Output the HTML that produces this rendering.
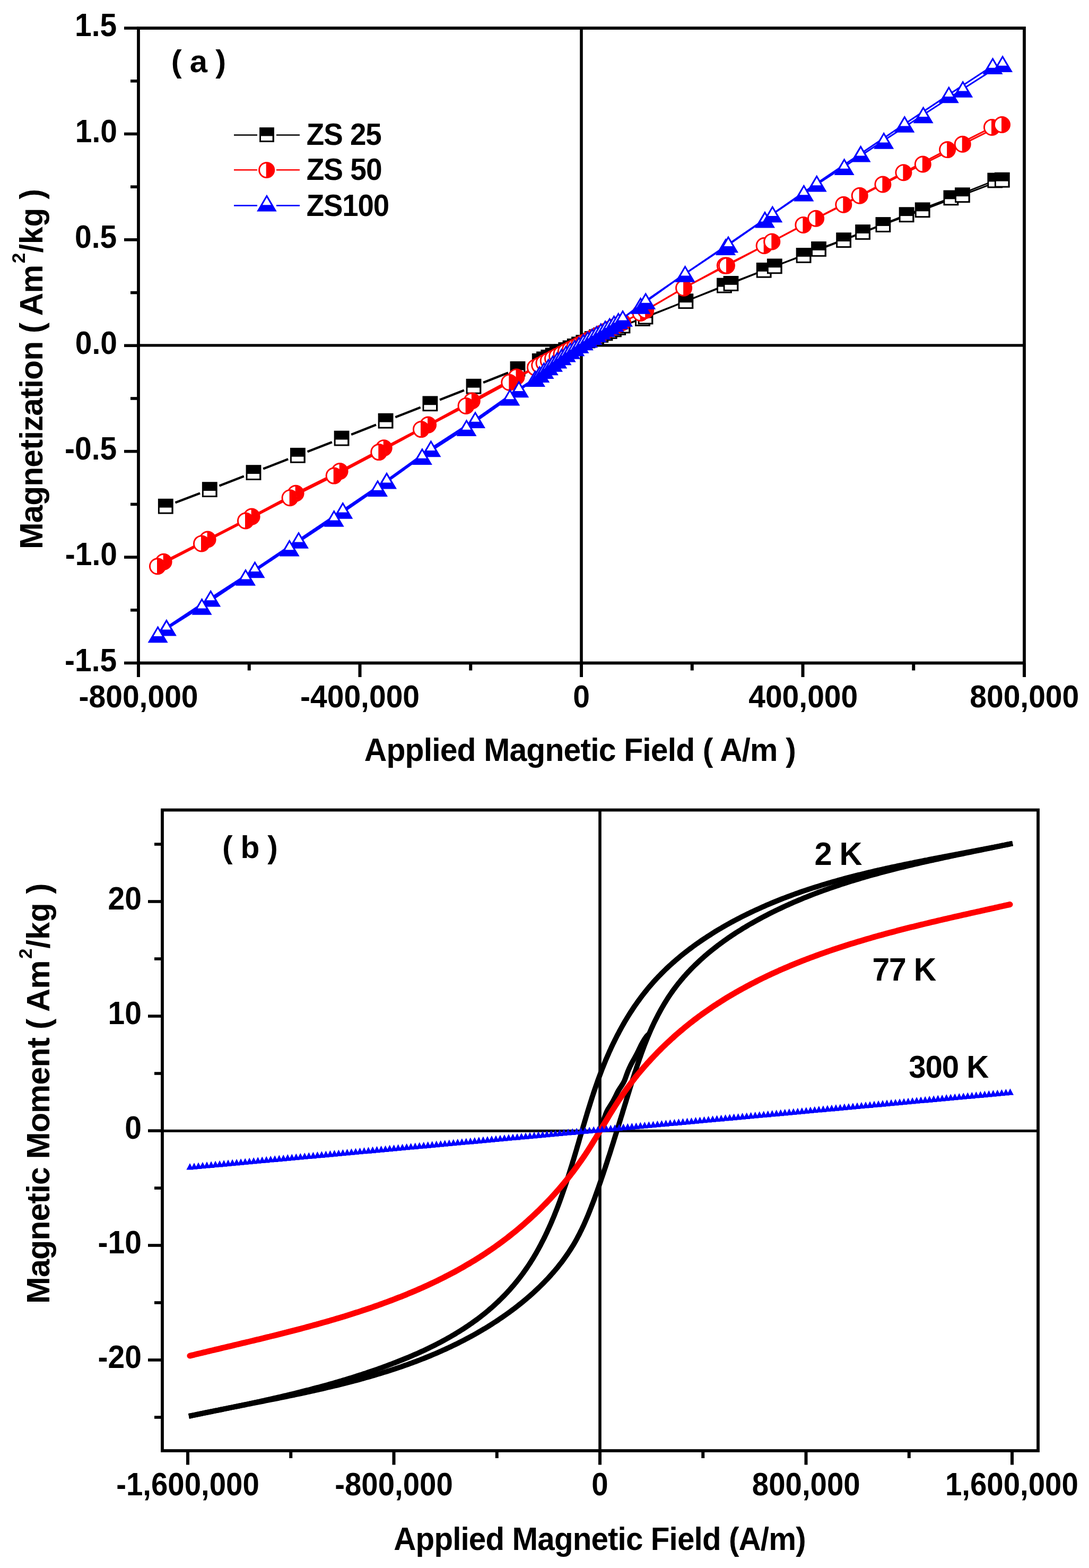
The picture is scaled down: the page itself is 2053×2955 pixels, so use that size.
<!DOCTYPE html>
<html><head><meta charset="utf-8"><title>Magnetization plots</title>
<style>html,body{margin:0;padding:0;background:#fff;}svg{display:block;}</style>
</head><body>
<svg xmlns="http://www.w3.org/2000/svg" width="2053" height="2955" viewBox="0 0 2053 2955">
<rect width="2053" height="2955" fill="#fff"/>
<line x1="1096" y1="53" x2="1096" y2="1249.5" stroke="#000" stroke-width="5.6" stroke-linecap="butt"/>
<line x1="261" y1="650.9" x2="1931" y2="650.9" stroke="#000" stroke-width="5.4" stroke-linecap="butt"/>
<line x1="1131" y1="1526.5" x2="1131" y2="2734" stroke="#000" stroke-width="5.6" stroke-linecap="butt"/>
<line x1="306" y1="2131.3" x2="1957" y2="2131.3" stroke="#000" stroke-width="5" stroke-linecap="butt"/>
<path d="M330.5 947.3L377.1 929.5M413.5 915.6L459.8 897.6M496.2 883.6L543.2 865.3M579.6 851.2L625.9 833.2M662.2 818.9L709.0 800.4M745.3 786.2L792.7 767.8M829.0 753.6L874.9 735.4M911.1 721.0L957.9 702.5M994.3 688.7L998.9 687.0" stroke="#000" stroke-width="4.3" fill="none"/>
<path d="M1174.0 613.9L1211.5 600.5M1211.5 600.5L1292.9 567.7M1292.9 567.7L1365.5 538.1M1365.5 538.1L1440.2 509.3M1440.2 509.3L1515.1 481.4M1515.1 481.4L1590.6 452.6M1590.6 452.6L1664.9 423.5M1664.9 423.5L1739.2 395.8M1739.2 395.8L1814.4 367.7M1814.4 367.7L1889.3 339.2" stroke="#000" stroke-width="2.9" fill="none"/>
<path d="M1174.0 613.9L1217.0 597.0M1217.0 597.0L1292.9 567.7M1292.9 567.7L1378.0 534.4M1378.0 534.4L1460.3 501.8M1460.3 501.8L1543.5 469.4M1543.5 469.4L1626.6 437.5M1626.6 437.5L1709.1 404.7M1709.1 404.7L1792.9 372.9M1792.9 372.9L1875.8 340.0" stroke="#000" stroke-width="2.9" fill="none"/>
<rect x="1002.85" y="665.94" width="28.8" height="28.8" fill="#000"/><rect x="1005.75" y="682.74" width="22.6" height="9" fill="#fff"/>
<rect x="1011.1" y="662.45" width="28.8" height="28.8" fill="#000"/><rect x="1014" y="679.25" width="22.6" height="9" fill="#fff"/>
<rect x="1019.35" y="658.95" width="28.8" height="28.8" fill="#000"/><rect x="1022.25" y="675.75" width="22.6" height="9" fill="#fff"/>
<rect x="1027.6" y="655.46" width="28.8" height="28.8" fill="#000"/><rect x="1030.5" y="672.26" width="22.6" height="9" fill="#fff"/>
<rect x="1035.85" y="651.96" width="28.8" height="28.8" fill="#000"/><rect x="1038.75" y="668.76" width="22.6" height="9" fill="#fff"/>
<rect x="1044.1" y="648.47" width="28.8" height="28.8" fill="#000"/><rect x="1047" y="665.27" width="22.6" height="9" fill="#fff"/>
<rect x="1052.35" y="644.97" width="28.8" height="28.8" fill="#000"/><rect x="1055.25" y="661.77" width="22.6" height="9" fill="#fff"/>
<rect x="1060.6" y="641.48" width="28.8" height="28.8" fill="#000"/><rect x="1063.5" y="658.28" width="22.6" height="9" fill="#fff"/>
<rect x="1068.85" y="637.98" width="28.8" height="28.8" fill="#000"/><rect x="1071.75" y="654.78" width="22.6" height="9" fill="#fff"/>
<rect x="1077.1" y="634.49" width="28.8" height="28.8" fill="#000"/><rect x="1080" y="651.29" width="22.6" height="9" fill="#fff"/>
<rect x="1085.35" y="630.99" width="28.8" height="28.8" fill="#000"/><rect x="1088.25" y="647.79" width="22.6" height="9" fill="#fff"/>
<rect x="1093.6" y="627.5" width="28.8" height="28.8" fill="#000"/><rect x="1096.5" y="644.3" width="22.6" height="9" fill="#fff"/>
<rect x="1101.85" y="624" width="28.8" height="28.8" fill="#000"/><rect x="1104.75" y="640.8" width="22.6" height="9" fill="#fff"/>
<rect x="1110.1" y="620.51" width="28.8" height="28.8" fill="#000"/><rect x="1113" y="637.31" width="22.6" height="9" fill="#fff"/>
<rect x="1118.35" y="617.01" width="28.8" height="28.8" fill="#000"/><rect x="1121.25" y="633.81" width="22.6" height="9" fill="#fff"/>
<rect x="1126.6" y="613.52" width="28.8" height="28.8" fill="#000"/><rect x="1129.5" y="630.32" width="22.6" height="9" fill="#fff"/>
<rect x="1134.85" y="610.02" width="28.8" height="28.8" fill="#000"/><rect x="1137.75" y="626.82" width="22.6" height="9" fill="#fff"/>
<rect x="1143.1" y="606.53" width="28.8" height="28.8" fill="#000"/><rect x="1146" y="623.33" width="22.6" height="9" fill="#fff"/>
<rect x="1151.35" y="603.04" width="28.8" height="28.8" fill="#000"/><rect x="1154.25" y="619.84" width="22.6" height="9" fill="#fff"/>
<rect x="1159.6" y="599.54" width="28.8" height="28.8" fill="#000"/><rect x="1162.5" y="616.34" width="22.6" height="9" fill="#fff"/>
<rect x="1197.1" y="586.1" width="28.8" height="28.8" fill="#000"/><rect x="1200" y="602.9" width="22.6" height="9" fill="#fff"/>
<rect x="961.6" y="680.9" width="28.8" height="28.8" fill="#000"/><rect x="964.5" y="697.7" width="22.6" height="9" fill="#fff"/>
<rect x="1202.6" y="582.6" width="28.8" height="28.8" fill="#000"/><rect x="1205.5" y="599.4" width="22.6" height="9" fill="#fff"/>
<rect x="1278.5" y="553.3" width="28.8" height="28.8" fill="#000"/><rect x="1281.4" y="570.1" width="22.6" height="9" fill="#fff"/>
<rect x="878.6" y="713.8" width="28.8" height="28.8" fill="#000"/><rect x="881.5" y="730.6" width="22.6" height="9" fill="#fff"/>
<rect x="1351.1" y="523.7" width="28.8" height="28.8" fill="#000"/><rect x="1354" y="540.5" width="22.6" height="9" fill="#fff"/>
<rect x="1363.6" y="520" width="28.8" height="28.8" fill="#000"/><rect x="1366.5" y="536.8" width="22.6" height="9" fill="#fff"/>
<rect x="796.5" y="746.4" width="28.8" height="28.8" fill="#000"/><rect x="799.4" y="763.2" width="22.6" height="9" fill="#fff"/>
<rect x="1425.8" y="494.9" width="28.8" height="28.8" fill="#000"/><rect x="1428.7" y="511.7" width="22.6" height="9" fill="#fff"/>
<rect x="1445.9" y="487.4" width="28.8" height="28.8" fill="#000"/><rect x="1448.8" y="504.2" width="22.6" height="9" fill="#fff"/>
<rect x="712.7" y="778.8" width="28.8" height="28.8" fill="#000"/><rect x="715.6" y="795.6" width="22.6" height="9" fill="#fff"/>
<rect x="1500.7" y="467" width="28.8" height="28.8" fill="#000"/><rect x="1503.6" y="483.8" width="22.6" height="9" fill="#fff"/>
<rect x="1529.1" y="455" width="28.8" height="28.8" fill="#000"/><rect x="1532" y="471.8" width="22.6" height="9" fill="#fff"/>
<rect x="629.7" y="811.7" width="28.8" height="28.8" fill="#000"/><rect x="632.6" y="828.5" width="22.6" height="9" fill="#fff"/>
<rect x="1576.2" y="438.2" width="28.8" height="28.8" fill="#000"/><rect x="1579.1" y="455" width="22.6" height="9" fill="#fff"/>
<rect x="1612.2" y="423.1" width="28.8" height="28.8" fill="#000"/><rect x="1615.1" y="439.9" width="22.6" height="9" fill="#fff"/>
<rect x="547" y="843.9" width="28.8" height="28.8" fill="#000"/><rect x="549.9" y="860.7" width="22.6" height="9" fill="#fff"/>
<rect x="1650.5" y="409.1" width="28.8" height="28.8" fill="#000"/><rect x="1653.4" y="425.9" width="22.6" height="9" fill="#fff"/>
<rect x="1694.7" y="390.3" width="28.8" height="28.8" fill="#000"/><rect x="1697.6" y="407.1" width="22.6" height="9" fill="#fff"/>
<rect x="463.6" y="876.2" width="28.8" height="28.8" fill="#000"/><rect x="466.5" y="893" width="22.6" height="9" fill="#fff"/>
<rect x="1724.8" y="381.4" width="28.8" height="28.8" fill="#000"/><rect x="1727.7" y="398.2" width="22.6" height="9" fill="#fff"/>
<rect x="1778.5" y="358.5" width="28.8" height="28.8" fill="#000"/><rect x="1781.4" y="375.3" width="22.6" height="9" fill="#fff"/>
<rect x="380.9" y="908.2" width="28.8" height="28.8" fill="#000"/><rect x="383.8" y="925" width="22.6" height="9" fill="#fff"/>
<rect x="1800" y="353.3" width="28.8" height="28.8" fill="#000"/><rect x="1802.9" y="370.1" width="22.6" height="9" fill="#fff"/>
<rect x="1861.4" y="325.6" width="28.8" height="28.8" fill="#000"/><rect x="1864.3" y="342.4" width="22.6" height="9" fill="#fff"/>
<rect x="297.9" y="939.8" width="28.8" height="28.8" fill="#000"/><rect x="300.8" y="956.6" width="22.6" height="9" fill="#fff"/>
<rect x="1874.9" y="324.8" width="28.8" height="28.8" fill="#000"/><rect x="1877.8" y="341.6" width="22.6" height="9" fill="#fff"/>
<path d="M297.0 1067.3L380.0 1024.4M380.0 1024.4L463.0 981.5M463.0 981.5L546.6 938.2M546.6 938.2L629.7 896.6M629.7 896.6L714.3 852.1M714.3 852.1L794.0 809.1M794.0 809.1L878.6 764.9M878.6 764.9L960.3 720.7M960.3 720.7L1009.0 692.6" stroke="#f00" stroke-width="3.8" fill="none"/>
<path d="M308.6 1058.8L391.6 1016.5M391.6 1016.5L474.6 973.6M474.6 973.6L557.6 929.8M557.6 929.8L640.6 888.1M640.6 888.1L723.7 844.2M723.7 844.2L807.1 800.6M807.1 800.6L889.8 755.5M889.8 755.5L973.5 710.4M973.5 710.4L1009.0 692.6" stroke="#f00" stroke-width="3.8" fill="none"/>
<path d="M1174.0 607.5L1207.6 590.0M1207.6 590.0L1289.1 542.7M1289.1 542.7L1366.8 500.6M1366.8 500.6L1440.7 463.0M1440.7 463.0L1514.4 423.9M1514.4 423.9L1590.3 385.8M1590.3 385.8L1664.4 347.5M1664.4 347.5L1739.8 309.5M1739.8 309.5L1814.7 271.8M1814.7 271.8L1889.0 235.0" stroke="#f00" stroke-width="3.0" fill="none"/>
<path d="M1174.0 607.5L1217.2 585.0M1217.2 585.0L1289.1 542.7M1289.1 542.7L1370.0 500.6M1370.0 500.6L1455.3 455.4M1455.3 455.4L1538.1 411.8M1538.1 411.8L1620.7 368.8M1620.7 368.8L1703.4 325.2M1703.4 325.2L1786.1 282.1M1786.1 282.1L1870.0 239.9" stroke="#f00" stroke-width="3.0" fill="none"/>
<circle cx="1009" cy="692.6" r="14.55" fill="#fff"/><path d="M1008 678.05 A14.55 14.55 0 0 1 1008 707.15 Z" fill="#f00"/><circle cx="1009" cy="692.6" r="14.55" fill="none" stroke="#f00" stroke-width="2.9"/>
<circle cx="1017.25" cy="688.34" r="14.55" fill="#fff"/><path d="M1016.25 673.79 A14.55 14.55 0 0 1 1016.25 702.89 Z" fill="#f00"/><circle cx="1017.25" cy="688.34" r="14.55" fill="none" stroke="#f00" stroke-width="2.9"/>
<circle cx="1025.5" cy="684.09" r="14.55" fill="#fff"/><path d="M1024.5 669.54 A14.55 14.55 0 0 1 1024.5 698.64 Z" fill="#f00"/><circle cx="1025.5" cy="684.09" r="14.55" fill="none" stroke="#f00" stroke-width="2.9"/>
<circle cx="1033.75" cy="679.83" r="14.55" fill="#fff"/><path d="M1032.75 665.28 A14.55 14.55 0 0 1 1032.75 694.38 Z" fill="#f00"/><circle cx="1033.75" cy="679.83" r="14.55" fill="none" stroke="#f00" stroke-width="2.9"/>
<circle cx="1042" cy="675.57" r="14.55" fill="#fff"/><path d="M1041 661.02 A14.55 14.55 0 0 1 1041 690.12 Z" fill="#f00"/><circle cx="1042" cy="675.57" r="14.55" fill="none" stroke="#f00" stroke-width="2.9"/>
<circle cx="1050.25" cy="671.32" r="14.55" fill="#fff"/><path d="M1049.25 656.77 A14.55 14.55 0 0 1 1049.25 685.87 Z" fill="#f00"/><circle cx="1050.25" cy="671.32" r="14.55" fill="none" stroke="#f00" stroke-width="2.9"/>
<circle cx="1058.5" cy="667.06" r="14.55" fill="#fff"/><path d="M1057.5 652.51 A14.55 14.55 0 0 1 1057.5 681.61 Z" fill="#f00"/><circle cx="1058.5" cy="667.06" r="14.55" fill="none" stroke="#f00" stroke-width="2.9"/>
<circle cx="1066.75" cy="662.8" r="14.55" fill="#fff"/><path d="M1065.75 648.25 A14.55 14.55 0 0 1 1065.75 677.35 Z" fill="#f00"/><circle cx="1066.75" cy="662.8" r="14.55" fill="none" stroke="#f00" stroke-width="2.9"/>
<circle cx="1075" cy="658.54" r="14.55" fill="#fff"/><path d="M1074 643.99 A14.55 14.55 0 0 1 1074 673.09 Z" fill="#f00"/><circle cx="1075" cy="658.54" r="14.55" fill="none" stroke="#f00" stroke-width="2.9"/>
<circle cx="1083.25" cy="654.29" r="14.55" fill="#fff"/><path d="M1082.25 639.74 A14.55 14.55 0 0 1 1082.25 668.84 Z" fill="#f00"/><circle cx="1083.25" cy="654.29" r="14.55" fill="none" stroke="#f00" stroke-width="2.9"/>
<circle cx="1091.5" cy="650.03" r="14.55" fill="#fff"/><path d="M1090.5 635.48 A14.55 14.55 0 0 1 1090.5 664.58 Z" fill="#f00"/><circle cx="1091.5" cy="650.03" r="14.55" fill="none" stroke="#f00" stroke-width="2.9"/>
<circle cx="1099.75" cy="645.77" r="14.55" fill="#fff"/><path d="M1098.75 631.22 A14.55 14.55 0 0 1 1098.75 660.32 Z" fill="#f00"/><circle cx="1099.75" cy="645.77" r="14.55" fill="none" stroke="#f00" stroke-width="2.9"/>
<circle cx="1108" cy="641.52" r="14.55" fill="#fff"/><path d="M1107 626.97 A14.55 14.55 0 0 1 1107 656.07 Z" fill="#f00"/><circle cx="1108" cy="641.52" r="14.55" fill="none" stroke="#f00" stroke-width="2.9"/>
<circle cx="1116.25" cy="637.26" r="14.55" fill="#fff"/><path d="M1115.25 622.71 A14.55 14.55 0 0 1 1115.25 651.81 Z" fill="#f00"/><circle cx="1116.25" cy="637.26" r="14.55" fill="none" stroke="#f00" stroke-width="2.9"/>
<circle cx="1124.5" cy="633" r="14.55" fill="#fff"/><path d="M1123.5 618.45 A14.55 14.55 0 0 1 1123.5 647.55 Z" fill="#f00"/><circle cx="1124.5" cy="633" r="14.55" fill="none" stroke="#f00" stroke-width="2.9"/>
<circle cx="1132.75" cy="628.75" r="14.55" fill="#fff"/><path d="M1131.75 614.2 A14.55 14.55 0 0 1 1131.75 643.29 Z" fill="#f00"/><circle cx="1132.75" cy="628.75" r="14.55" fill="none" stroke="#f00" stroke-width="2.9"/>
<circle cx="1141" cy="624.49" r="14.55" fill="#fff"/><path d="M1140 609.94 A14.55 14.55 0 0 1 1140 639.04 Z" fill="#f00"/><circle cx="1141" cy="624.49" r="14.55" fill="none" stroke="#f00" stroke-width="2.9"/>
<circle cx="1149.25" cy="620.23" r="14.55" fill="#fff"/><path d="M1148.25 605.68 A14.55 14.55 0 0 1 1148.25 634.78 Z" fill="#f00"/><circle cx="1149.25" cy="620.23" r="14.55" fill="none" stroke="#f00" stroke-width="2.9"/>
<circle cx="1157.5" cy="615.97" r="14.55" fill="#fff"/><path d="M1156.5 601.42 A14.55 14.55 0 0 1 1156.5 630.52 Z" fill="#f00"/><circle cx="1157.5" cy="615.97" r="14.55" fill="none" stroke="#f00" stroke-width="2.9"/>
<circle cx="1165.75" cy="611.72" r="14.55" fill="#fff"/><path d="M1164.75 597.17 A14.55 14.55 0 0 1 1164.75 626.27 Z" fill="#f00"/><circle cx="1165.75" cy="611.72" r="14.55" fill="none" stroke="#f00" stroke-width="2.9"/>
<circle cx="1174" cy="607.46" r="14.55" fill="#fff"/><path d="M1173 592.91 A14.55 14.55 0 0 1 1173 622.01 Z" fill="#f00"/><circle cx="1174" cy="607.46" r="14.55" fill="none" stroke="#f00" stroke-width="2.9"/>
<circle cx="1207.6" cy="590" r="14.55" fill="#fff"/><path d="M1206.6 575.45 A14.55 14.55 0 0 1 1206.6 604.55 Z" fill="#f00"/><circle cx="1207.6" cy="590" r="14.55" fill="none" stroke="#f00" stroke-width="2.9"/>
<circle cx="1217.2" cy="585" r="14.55" fill="#fff"/><path d="M1216.2 570.45 A14.55 14.55 0 0 1 1216.2 599.55 Z" fill="#f00"/><circle cx="1217.2" cy="585" r="14.55" fill="none" stroke="#f00" stroke-width="2.9"/>
<circle cx="973.5" cy="710.4" r="14.55" fill="#fff"/><path d="M972.5 695.85 A14.55 14.55 0 0 1 972.5 724.95 Z" fill="#f00"/><circle cx="973.5" cy="710.4" r="14.55" fill="none" stroke="#f00" stroke-width="2.9"/>
<circle cx="960.3" cy="720.7" r="14.55" fill="#fff"/><path d="M959.3 706.15 A14.55 14.55 0 0 1 959.3 735.25 Z" fill="#f00"/><circle cx="960.3" cy="720.7" r="14.55" fill="none" stroke="#f00" stroke-width="2.9"/>
<circle cx="1289.1" cy="542.7" r="14.55" fill="#fff"/><path d="M1288.1 528.15 A14.55 14.55 0 0 1 1288.1 557.25 Z" fill="#f00"/><circle cx="1289.1" cy="542.7" r="14.55" fill="none" stroke="#f00" stroke-width="2.9"/>
<circle cx="889.8" cy="755.5" r="14.55" fill="#fff"/><path d="M888.8 740.95 A14.55 14.55 0 0 1 888.8 770.05 Z" fill="#f00"/><circle cx="889.8" cy="755.5" r="14.55" fill="none" stroke="#f00" stroke-width="2.9"/>
<circle cx="878.6" cy="764.9" r="14.55" fill="#fff"/><path d="M877.6 750.35 A14.55 14.55 0 0 1 877.6 779.45 Z" fill="#f00"/><circle cx="878.6" cy="764.9" r="14.55" fill="none" stroke="#f00" stroke-width="2.9"/>
<circle cx="1366.8" cy="500.6" r="14.55" fill="#fff"/><path d="M1365.8 486.05 A14.55 14.55 0 0 1 1365.8 515.15 Z" fill="#f00"/><circle cx="1366.8" cy="500.6" r="14.55" fill="none" stroke="#f00" stroke-width="2.9"/>
<circle cx="1370" cy="500.6" r="14.55" fill="#fff"/><path d="M1369 486.05 A14.55 14.55 0 0 1 1369 515.15 Z" fill="#f00"/><circle cx="1370" cy="500.6" r="14.55" fill="none" stroke="#f00" stroke-width="2.9"/>
<circle cx="807.1" cy="800.6" r="14.55" fill="#fff"/><path d="M806.1 786.05 A14.55 14.55 0 0 1 806.1 815.15 Z" fill="#f00"/><circle cx="807.1" cy="800.6" r="14.55" fill="none" stroke="#f00" stroke-width="2.9"/>
<circle cx="794" cy="809.1" r="14.55" fill="#fff"/><path d="M793 794.55 A14.55 14.55 0 0 1 793 823.65 Z" fill="#f00"/><circle cx="794" cy="809.1" r="14.55" fill="none" stroke="#f00" stroke-width="2.9"/>
<circle cx="1440.7" cy="463" r="14.55" fill="#fff"/><path d="M1439.7 448.45 A14.55 14.55 0 0 1 1439.7 477.55 Z" fill="#f00"/><circle cx="1440.7" cy="463" r="14.55" fill="none" stroke="#f00" stroke-width="2.9"/>
<circle cx="1455.3" cy="455.4" r="14.55" fill="#fff"/><path d="M1454.3 440.85 A14.55 14.55 0 0 1 1454.3 469.95 Z" fill="#f00"/><circle cx="1455.3" cy="455.4" r="14.55" fill="none" stroke="#f00" stroke-width="2.9"/>
<circle cx="723.7" cy="844.2" r="14.55" fill="#fff"/><path d="M722.7 829.65 A14.55 14.55 0 0 1 722.7 858.75 Z" fill="#f00"/><circle cx="723.7" cy="844.2" r="14.55" fill="none" stroke="#f00" stroke-width="2.9"/>
<circle cx="714.3" cy="852.1" r="14.55" fill="#fff"/><path d="M713.3 837.55 A14.55 14.55 0 0 1 713.3 866.65 Z" fill="#f00"/><circle cx="714.3" cy="852.1" r="14.55" fill="none" stroke="#f00" stroke-width="2.9"/>
<circle cx="1514.4" cy="423.9" r="14.55" fill="#fff"/><path d="M1513.4 409.35 A14.55 14.55 0 0 1 1513.4 438.45 Z" fill="#f00"/><circle cx="1514.4" cy="423.9" r="14.55" fill="none" stroke="#f00" stroke-width="2.9"/>
<circle cx="1538.1" cy="411.8" r="14.55" fill="#fff"/><path d="M1537.1 397.25 A14.55 14.55 0 0 1 1537.1 426.35 Z" fill="#f00"/><circle cx="1538.1" cy="411.8" r="14.55" fill="none" stroke="#f00" stroke-width="2.9"/>
<circle cx="640.6" cy="888.1" r="14.55" fill="#fff"/><path d="M639.6 873.55 A14.55 14.55 0 0 1 639.6 902.65 Z" fill="#f00"/><circle cx="640.6" cy="888.1" r="14.55" fill="none" stroke="#f00" stroke-width="2.9"/>
<circle cx="629.7" cy="896.6" r="14.55" fill="#fff"/><path d="M628.7 882.05 A14.55 14.55 0 0 1 628.7 911.15 Z" fill="#f00"/><circle cx="629.7" cy="896.6" r="14.55" fill="none" stroke="#f00" stroke-width="2.9"/>
<circle cx="1590.3" cy="385.8" r="14.55" fill="#fff"/><path d="M1589.3 371.25 A14.55 14.55 0 0 1 1589.3 400.35 Z" fill="#f00"/><circle cx="1590.3" cy="385.8" r="14.55" fill="none" stroke="#f00" stroke-width="2.9"/>
<circle cx="1620.7" cy="368.8" r="14.55" fill="#fff"/><path d="M1619.7 354.25 A14.55 14.55 0 0 1 1619.7 383.35 Z" fill="#f00"/><circle cx="1620.7" cy="368.8" r="14.55" fill="none" stroke="#f00" stroke-width="2.9"/>
<circle cx="557.6" cy="929.8" r="14.55" fill="#fff"/><path d="M556.6 915.25 A14.55 14.55 0 0 1 556.6 944.35 Z" fill="#f00"/><circle cx="557.6" cy="929.8" r="14.55" fill="none" stroke="#f00" stroke-width="2.9"/>
<circle cx="546.6" cy="938.2" r="14.55" fill="#fff"/><path d="M545.6 923.65 A14.55 14.55 0 0 1 545.6 952.75 Z" fill="#f00"/><circle cx="546.6" cy="938.2" r="14.55" fill="none" stroke="#f00" stroke-width="2.9"/>
<circle cx="1664.4" cy="347.5" r="14.55" fill="#fff"/><path d="M1663.4 332.95 A14.55 14.55 0 0 1 1663.4 362.05 Z" fill="#f00"/><circle cx="1664.4" cy="347.5" r="14.55" fill="none" stroke="#f00" stroke-width="2.9"/>
<circle cx="1703.4" cy="325.2" r="14.55" fill="#fff"/><path d="M1702.4 310.65 A14.55 14.55 0 0 1 1702.4 339.75 Z" fill="#f00"/><circle cx="1703.4" cy="325.2" r="14.55" fill="none" stroke="#f00" stroke-width="2.9"/>
<circle cx="474.6" cy="973.6" r="14.55" fill="#fff"/><path d="M473.6 959.05 A14.55 14.55 0 0 1 473.6 988.15 Z" fill="#f00"/><circle cx="474.6" cy="973.6" r="14.55" fill="none" stroke="#f00" stroke-width="2.9"/>
<circle cx="463" cy="981.5" r="14.55" fill="#fff"/><path d="M462 966.95 A14.55 14.55 0 0 1 462 996.05 Z" fill="#f00"/><circle cx="463" cy="981.5" r="14.55" fill="none" stroke="#f00" stroke-width="2.9"/>
<circle cx="1739.8" cy="309.5" r="14.55" fill="#fff"/><path d="M1738.8 294.95 A14.55 14.55 0 0 1 1738.8 324.05 Z" fill="#f00"/><circle cx="1739.8" cy="309.5" r="14.55" fill="none" stroke="#f00" stroke-width="2.9"/>
<circle cx="1786.1" cy="282.1" r="14.55" fill="#fff"/><path d="M1785.1 267.55 A14.55 14.55 0 0 1 1785.1 296.65 Z" fill="#f00"/><circle cx="1786.1" cy="282.1" r="14.55" fill="none" stroke="#f00" stroke-width="2.9"/>
<circle cx="391.6" cy="1016.5" r="14.55" fill="#fff"/><path d="M390.6 1001.95 A14.55 14.55 0 0 1 390.6 1031.05 Z" fill="#f00"/><circle cx="391.6" cy="1016.5" r="14.55" fill="none" stroke="#f00" stroke-width="2.9"/>
<circle cx="380" cy="1024.4" r="14.55" fill="#fff"/><path d="M379 1009.85 A14.55 14.55 0 0 1 379 1038.95 Z" fill="#f00"/><circle cx="380" cy="1024.4" r="14.55" fill="none" stroke="#f00" stroke-width="2.9"/>
<circle cx="1814.7" cy="271.8" r="14.55" fill="#fff"/><path d="M1813.7 257.25 A14.55 14.55 0 0 1 1813.7 286.35 Z" fill="#f00"/><circle cx="1814.7" cy="271.8" r="14.55" fill="none" stroke="#f00" stroke-width="2.9"/>
<circle cx="1870" cy="239.9" r="14.55" fill="#fff"/><path d="M1869 225.35 A14.55 14.55 0 0 1 1869 254.45 Z" fill="#f00"/><circle cx="1870" cy="239.9" r="14.55" fill="none" stroke="#f00" stroke-width="2.9"/>
<circle cx="308.6" cy="1058.8" r="14.55" fill="#fff"/><path d="M307.6 1044.25 A14.55 14.55 0 0 1 307.6 1073.35 Z" fill="#f00"/><circle cx="308.6" cy="1058.8" r="14.55" fill="none" stroke="#f00" stroke-width="2.9"/>
<circle cx="1889" cy="235" r="14.55" fill="#fff"/><path d="M1888 220.45 A14.55 14.55 0 0 1 1888 249.55 Z" fill="#f00"/><circle cx="1889" cy="235" r="14.55" fill="none" stroke="#f00" stroke-width="2.9"/>
<circle cx="297" cy="1067.3" r="14.55" fill="#fff"/><path d="M296 1052.75 A14.55 14.55 0 0 1 296 1081.85 Z" fill="#f00"/><circle cx="297" cy="1067.3" r="14.55" fill="none" stroke="#f00" stroke-width="2.9"/>
<path d="M297.6 1195.2L380.6 1142.8M380.6 1142.8L463.0 1087.7M463.0 1087.7L545.7 1032.5M545.7 1032.5L629.7 976.8M629.7 976.8L712.0 920.0M712.0 920.0L795.9 860.0M795.9 860.0L879.5 805.9M879.5 805.9L961.3 748.5M961.3 748.5L1009.0 713.1" stroke="#00f" stroke-width="3.8" fill="none"/>
<path d="M313.9 1182.6L397.2 1127.4M397.2 1127.4L480.5 1073.3M480.5 1073.3L563.0 1017.8M563.0 1017.8L646.3 961.7M646.3 961.7L729.0 905.6M729.0 905.6L812.4 845.3M812.4 845.3L896.0 791.0M896.0 791.0L978.2 733.3M978.2 733.3L1009.0 713.1" stroke="#00f" stroke-width="3.8" fill="none"/>
<path d="M1174.0 599.7L1207.6 575.7M1207.6 575.7L1291.6 515.8M1291.6 515.8L1368.0 465.0M1368.0 465.0L1442.0 413.6M1442.0 413.6L1515.4 363.5M1515.4 363.5L1591.6 313.9M1591.6 313.9L1666.2 264.8M1666.2 264.8L1740.6 216.3M1740.6 216.3L1815.2 167.8M1815.2 167.8L1890.1 120.0" stroke="#00f" stroke-width="3.0" fill="none"/>
<path d="M1174.0 599.7L1217.2 567.0M1217.2 567.0L1291.6 515.8M1291.6 515.8L1373.0 460.2M1373.0 460.2L1456.3 403.3M1456.3 403.3L1539.7 345.4M1539.7 345.4L1622.6 289.6M1622.6 289.6L1705.3 233.8M1705.3 233.8L1788.8 178.3M1788.8 178.3L1871.5 124.0" stroke="#00f" stroke-width="3.0" fill="none"/>
<path d="M1009 697.06 L1028 729.06 L990 729.06 Z" fill="#00f"/><path d="M1009 702.86 L1017 716.86 L1001 716.86 Z" fill="#fff"/>
<path d="M1017.25 689.11 L1036.25 721.11 L998.25 721.11 Z" fill="#00f"/><path d="M1017.25 694.91 L1025.25 708.91 L1009.25 708.91 Z" fill="#fff"/>
<path d="M1025.5 682.01 L1044.5 714.01 L1006.5 714.01 Z" fill="#00f"/><path d="M1025.5 687.81 L1033.5 701.81 L1017.5 701.81 Z" fill="#fff"/>
<path d="M1033.75 675.24 L1052.75 707.24 L1014.75 707.24 Z" fill="#00f"/><path d="M1033.75 681.04 L1041.75 695.04 L1025.75 695.04 Z" fill="#fff"/>
<path d="M1042 668.73 L1061 700.73 L1023 700.73 Z" fill="#00f"/><path d="M1042 674.53 L1050 688.53 L1034 688.53 Z" fill="#fff"/>
<path d="M1050.25 662.45 L1069.25 694.45 L1031.25 694.45 Z" fill="#00f"/><path d="M1050.25 668.25 L1058.25 682.25 L1042.25 682.25 Z" fill="#fff"/>
<path d="M1058.5 656.36 L1077.5 688.36 L1039.5 688.36 Z" fill="#00f"/><path d="M1058.5 662.16 L1066.5 676.16 L1050.5 676.16 Z" fill="#fff"/>
<path d="M1066.75 650.45 L1085.75 682.45 L1047.75 682.45 Z" fill="#00f"/><path d="M1066.75 656.25 L1074.75 670.25 L1058.75 670.25 Z" fill="#fff"/>
<path d="M1075 644.71 L1094 676.71 L1056 676.71 Z" fill="#00f"/><path d="M1075 650.51 L1083 664.51 L1067 664.51 Z" fill="#fff"/>
<path d="M1083.25 639.13 L1102.25 671.13 L1064.25 671.13 Z" fill="#00f"/><path d="M1083.25 644.93 L1091.25 658.93 L1075.25 658.93 Z" fill="#fff"/>
<path d="M1091.5 633.69 L1110.5 665.69 L1072.5 665.69 Z" fill="#00f"/><path d="M1091.5 639.49 L1099.5 653.49 L1083.5 653.49 Z" fill="#fff"/>
<path d="M1099.75 628.37 L1118.75 660.37 L1080.75 660.37 Z" fill="#00f"/><path d="M1099.75 634.17 L1107.75 648.17 L1091.75 648.17 Z" fill="#fff"/>
<path d="M1108 623.15 L1127 655.15 L1089 655.15 Z" fill="#00f"/><path d="M1108 628.95 L1116 642.95 L1100 642.95 Z" fill="#fff"/>
<path d="M1116.25 618.04 L1135.25 650.04 L1097.25 650.04 Z" fill="#00f"/><path d="M1116.25 623.84 L1124.25 637.84 L1108.25 637.84 Z" fill="#fff"/>
<path d="M1124.5 613 L1143.5 645 L1105.5 645 Z" fill="#00f"/><path d="M1124.5 618.8 L1132.5 632.8 L1116.5 632.8 Z" fill="#fff"/>
<path d="M1132.75 608.03 L1151.75 640.03 L1113.75 640.03 Z" fill="#00f"/><path d="M1132.75 613.83 L1140.75 627.83 L1124.75 627.83 Z" fill="#fff"/>
<path d="M1141 603.11 L1160 635.11 L1122 635.11 Z" fill="#00f"/><path d="M1141 608.91 L1149 622.91 L1133 622.91 Z" fill="#fff"/>
<path d="M1149.25 598.24 L1168.25 630.24 L1130.25 630.24 Z" fill="#00f"/><path d="M1149.25 604.04 L1157.25 618.04 L1141.25 618.04 Z" fill="#fff"/>
<path d="M1157.5 593.38 L1176.5 625.38 L1138.5 625.38 Z" fill="#00f"/><path d="M1157.5 599.18 L1165.5 613.18 L1149.5 613.18 Z" fill="#fff"/>
<path d="M1165.75 588.54 L1184.75 620.54 L1146.75 620.54 Z" fill="#00f"/><path d="M1165.75 594.34 L1173.75 608.34 L1157.75 608.34 Z" fill="#fff"/>
<path d="M1174 583.7 L1193 615.7 L1155 615.7 Z" fill="#00f"/><path d="M1174 589.5 L1182 603.5 L1166 603.5 Z" fill="#fff"/>
<path d="M1207.6 559.7 L1226.6 591.7 L1188.6 591.7 Z" fill="#00f"/><path d="M1207.6 565.5 L1215.6 579.5 L1199.6 579.5 Z" fill="#fff"/>
<path d="M978.2 717.3 L997.2 749.3 L959.2 749.3 Z" fill="#00f"/><path d="M978.2 723.1 L986.2 737.1 L970.2 737.1 Z" fill="#fff"/>
<path d="M1217.2 551 L1236.2 583 L1198.2 583 Z" fill="#00f"/><path d="M1217.2 556.8 L1225.2 570.8 L1209.2 570.8 Z" fill="#fff"/>
<path d="M961.3 732.5 L980.3 764.5 L942.3 764.5 Z" fill="#00f"/><path d="M961.3 738.3 L969.3 752.3 L953.3 752.3 Z" fill="#fff"/>
<path d="M1291.6 499.8 L1310.6 531.8 L1272.6 531.8 Z" fill="#00f"/><path d="M1291.6 505.6 L1299.6 519.6 L1283.6 519.6 Z" fill="#fff"/>
<path d="M896 775 L915 807 L877 807 Z" fill="#00f"/><path d="M896 780.8 L904 794.8 L888 794.8 Z" fill="#fff"/>
<path d="M879.5 789.9 L898.5 821.9 L860.5 821.9 Z" fill="#00f"/><path d="M879.5 795.7 L887.5 809.7 L871.5 809.7 Z" fill="#fff"/>
<path d="M1368 449 L1387 481 L1349 481 Z" fill="#00f"/><path d="M1368 454.8 L1376 468.8 L1360 468.8 Z" fill="#fff"/>
<path d="M1373 444.2 L1392 476.2 L1354 476.2 Z" fill="#00f"/><path d="M1373 450 L1381 464 L1365 464 Z" fill="#fff"/>
<path d="M812.4 829.3 L831.4 861.3 L793.4 861.3 Z" fill="#00f"/><path d="M812.4 835.1 L820.4 849.1 L804.4 849.1 Z" fill="#fff"/>
<path d="M795.9 844 L814.9 876 L776.9 876 Z" fill="#00f"/><path d="M795.9 849.8 L803.9 863.8 L787.9 863.8 Z" fill="#fff"/>
<path d="M1442 397.6 L1461 429.6 L1423 429.6 Z" fill="#00f"/><path d="M1442 403.4 L1450 417.4 L1434 417.4 Z" fill="#fff"/>
<path d="M1456.3 387.3 L1475.3 419.3 L1437.3 419.3 Z" fill="#00f"/><path d="M1456.3 393.1 L1464.3 407.1 L1448.3 407.1 Z" fill="#fff"/>
<path d="M729 889.6 L748 921.6 L710 921.6 Z" fill="#00f"/><path d="M729 895.4 L737 909.4 L721 909.4 Z" fill="#fff"/>
<path d="M712 904 L731 936 L693 936 Z" fill="#00f"/><path d="M712 909.8 L720 923.8 L704 923.8 Z" fill="#fff"/>
<path d="M1515.4 347.5 L1534.4 379.5 L1496.4 379.5 Z" fill="#00f"/><path d="M1515.4 353.3 L1523.4 367.3 L1507.4 367.3 Z" fill="#fff"/>
<path d="M1539.7 329.4 L1558.7 361.4 L1520.7 361.4 Z" fill="#00f"/><path d="M1539.7 335.2 L1547.7 349.2 L1531.7 349.2 Z" fill="#fff"/>
<path d="M646.3 945.7 L665.3 977.7 L627.3 977.7 Z" fill="#00f"/><path d="M646.3 951.5 L654.3 965.5 L638.3 965.5 Z" fill="#fff"/>
<path d="M629.7 960.8 L648.7 992.8 L610.7 992.8 Z" fill="#00f"/><path d="M629.7 966.6 L637.7 980.6 L621.7 980.6 Z" fill="#fff"/>
<path d="M1591.6 297.9 L1610.6 329.9 L1572.6 329.9 Z" fill="#00f"/><path d="M1591.6 303.7 L1599.6 317.7 L1583.6 317.7 Z" fill="#fff"/>
<path d="M1622.6 273.6 L1641.6 305.6 L1603.6 305.6 Z" fill="#00f"/><path d="M1622.6 279.4 L1630.6 293.4 L1614.6 293.4 Z" fill="#fff"/>
<path d="M563 1001.8 L582 1033.8 L544 1033.8 Z" fill="#00f"/><path d="M563 1007.6 L571 1021.6 L555 1021.6 Z" fill="#fff"/>
<path d="M545.7 1016.5 L564.7 1048.5 L526.7 1048.5 Z" fill="#00f"/><path d="M545.7 1022.3 L553.7 1036.3 L537.7 1036.3 Z" fill="#fff"/>
<path d="M1666.2 248.8 L1685.2 280.8 L1647.2 280.8 Z" fill="#00f"/><path d="M1666.2 254.6 L1674.2 268.6 L1658.2 268.6 Z" fill="#fff"/>
<path d="M1705.3 217.8 L1724.3 249.8 L1686.3 249.8 Z" fill="#00f"/><path d="M1705.3 223.6 L1713.3 237.6 L1697.3 237.6 Z" fill="#fff"/>
<path d="M480.5 1057.3 L499.5 1089.3 L461.5 1089.3 Z" fill="#00f"/><path d="M480.5 1063.1 L488.5 1077.1 L472.5 1077.1 Z" fill="#fff"/>
<path d="M463 1071.7 L482 1103.7 L444 1103.7 Z" fill="#00f"/><path d="M463 1077.5 L471 1091.5 L455 1091.5 Z" fill="#fff"/>
<path d="M1740.6 200.3 L1759.6 232.3 L1721.6 232.3 Z" fill="#00f"/><path d="M1740.6 206.1 L1748.6 220.1 L1732.6 220.1 Z" fill="#fff"/>
<path d="M1788.8 162.3 L1807.8 194.3 L1769.8 194.3 Z" fill="#00f"/><path d="M1788.8 168.1 L1796.8 182.1 L1780.8 182.1 Z" fill="#fff"/>
<path d="M397.2 1111.4 L416.2 1143.4 L378.2 1143.4 Z" fill="#00f"/><path d="M397.2 1117.2 L405.2 1131.2 L389.2 1131.2 Z" fill="#fff"/>
<path d="M380.6 1126.8 L399.6 1158.8 L361.6 1158.8 Z" fill="#00f"/><path d="M380.6 1132.6 L388.6 1146.6 L372.6 1146.6 Z" fill="#fff"/>
<path d="M1815.2 151.8 L1834.2 183.8 L1796.2 183.8 Z" fill="#00f"/><path d="M1815.2 157.6 L1823.2 171.6 L1807.2 171.6 Z" fill="#fff"/>
<path d="M1871.5 108 L1890.5 140 L1852.5 140 Z" fill="#00f"/><path d="M1871.5 113.8 L1879.5 127.8 L1863.5 127.8 Z" fill="#fff"/>
<path d="M313.9 1166.6 L332.9 1198.6 L294.9 1198.6 Z" fill="#00f"/><path d="M313.9 1172.4 L321.9 1186.4 L305.9 1186.4 Z" fill="#fff"/>
<path d="M1890.1 104 L1909.1 136 L1871.1 136 Z" fill="#00f"/><path d="M1890.1 109.8 L1898.1 123.8 L1882.1 123.8 Z" fill="#fff"/>
<path d="M297.6 1179.2 L316.6 1211.2 L278.6 1211.2 Z" fill="#00f"/><path d="M297.6 1185 L305.6 1199 L289.6 1199 Z" fill="#fff"/>
<path d="M1909.0 1589.5 L1905.1 1590.3 L1901.2 1591.1 L1897.2 1591.9 L1893.3 1592.7 L1889.4 1593.4 L1885.5 1594.2 L1881.5 1595.0 L1877.6 1595.8 L1873.7 1596.6 L1869.7 1597.3 L1865.8 1598.1 L1861.9 1598.8 L1857.9 1599.6 L1854.0 1600.4 L1850.1 1601.1 L1846.1 1601.9 L1842.2 1602.6 L1838.3 1603.4 L1834.3 1604.1 L1830.4 1604.9 L1826.5 1605.6 L1822.5 1606.4 L1818.6 1607.1 L1814.6 1607.9 L1810.7 1608.6 L1806.8 1609.4 L1802.8 1610.1 L1798.9 1610.9 L1794.9 1611.6 L1791.0 1612.3 L1787.1 1613.1 L1783.1 1613.8 L1779.2 1614.6 L1775.3 1615.4 L1771.3 1616.1 L1767.4 1616.9 L1763.4 1617.6 L1759.5 1618.4 L1755.6 1619.1 L1751.6 1619.9 L1747.7 1620.7 L1743.8 1621.4 L1739.8 1622.2 L1735.9 1623.0 L1732.0 1623.8 L1728.1 1624.6 L1724.1 1625.4 L1720.2 1626.2 L1716.3 1626.9 L1712.4 1627.8 L1708.4 1628.6 L1704.5 1629.4 L1700.6 1630.2 L1696.7 1631.0 L1692.8 1631.8 L1688.9 1632.7 L1685.0 1633.5 L1681.0 1634.4 L1677.1 1635.2 L1673.2 1636.1 L1669.3 1636.9 L1665.4 1637.8 L1661.5 1638.7 L1657.6 1639.6 L1653.7 1640.4 L1649.8 1641.3 L1646.0 1642.3 L1642.1 1643.2 L1638.2 1644.1 L1634.3 1645.0 L1630.4 1646.0 L1626.5 1646.9 L1622.7 1647.9 L1618.8 1648.8 L1614.9 1649.8 L1611.1 1650.8 L1607.2 1651.8 L1603.3 1652.8 L1599.5 1653.8 L1595.6 1654.8 L1591.8 1655.8 L1587.9 1656.9 L1584.1 1657.9 L1580.3 1659.0 L1576.4 1660.1 L1572.6 1661.2 L1568.8 1662.3 L1564.9 1663.4 L1561.1 1664.5 L1557.3 1665.6 L1553.5 1666.8 L1549.7 1667.9 L1545.9 1669.1 L1542.1 1670.3 L1538.3 1671.5 L1534.5 1672.7 L1530.7 1673.9 L1526.9 1675.1 L1523.1 1676.4 L1519.4 1677.7 L1515.6 1678.9 L1511.8 1680.2 L1508.0 1681.5 L1504.3 1682.8 L1500.5 1684.2 L1496.8 1685.5 L1493.0 1686.9 L1489.3 1688.3 L1485.6 1689.7 L1481.8 1691.1 L1478.1 1692.5 L1474.4 1693.9 L1470.7 1695.4 L1467.0 1696.9 L1463.3 1698.4 L1459.6 1699.9 L1455.9 1701.4 L1452.2 1702.9 L1448.5 1704.5 L1444.8 1706.1 L1441.2 1707.7 L1437.5 1709.3 L1433.9 1710.9 L1430.2 1712.6 L1426.6 1714.2 L1422.9 1715.9 L1419.3 1717.6 L1415.7 1719.3 L1412.0 1721.1 L1408.4 1722.8 L1404.8 1724.6 L1401.2 1726.4 L1397.6 1728.2 L1394.0 1730.1 L1390.4 1731.9 L1386.9 1733.8 L1383.3 1735.7 L1379.7 1737.6 L1376.2 1739.6 L1372.7 1741.5 L1369.1 1743.5 L1365.6 1745.5 L1362.1 1747.5 L1358.6 1749.6 L1355.1 1751.6 L1351.7 1753.7 L1348.2 1755.8 L1344.8 1757.9 L1341.4 1760.1 L1338.0 1762.3 L1334.6 1764.4 L1331.2 1766.7 L1327.8 1768.9 L1324.5 1771.1 L1321.1 1773.4 L1317.8 1775.7 L1314.5 1778.0 L1311.2 1780.3 L1308.0 1782.7 L1304.7 1785.1 L1301.5 1787.5 L1298.3 1789.9 L1295.1 1792.3 L1291.9 1794.8 L1288.8 1797.3 L1285.7 1799.8 L1282.6 1802.3 L1279.5 1804.9 L1276.4 1807.5 L1273.4 1810.1 L1270.4 1812.7 L1267.4 1815.3 L1264.5 1818.0 L1261.5 1820.7 L1258.6 1823.4 L1255.7 1826.1 L1252.9 1828.9 L1250.0 1831.7 L1247.2 1834.5 L1244.5 1837.3 L1241.7 1840.1 L1239.0 1843.0 L1236.3 1845.9 L1233.6 1848.8 L1231.0 1851.8 L1228.4 1854.7 L1225.8 1857.7 L1223.3 1860.7 L1220.8 1863.7 L1218.3 1866.8 L1215.8 1869.9 L1213.4 1873.0 L1211.0 1876.1 L1208.6 1879.2 L1206.3 1882.4 L1204.0 1885.5 L1201.7 1888.7 L1199.4 1892.0 L1197.1 1895.2 L1194.9 1898.4 L1192.7 1901.7 L1190.6 1905.0 L1188.4 1908.3 L1186.3 1911.6 L1184.2 1915.0 L1182.2 1918.3 L1180.1 1921.7 L1178.1 1925.1 L1176.1 1928.5 L1174.2 1931.9 L1172.2 1935.4 L1170.3 1938.8 L1168.4 1942.3 L1166.6 1945.8 L1164.7 1949.3 L1162.9 1952.8 L1161.1 1956.4 L1159.3 1959.9 L1157.6 1963.5 L1155.8 1967.0 L1154.1 1970.6 L1152.4 1974.2 L1150.8 1977.8 L1149.1 1981.4 L1147.5 1985.1 L1145.9 1988.7 L1144.3 1992.4 L1142.7 1996.0 L1141.2 1999.7 L1139.7 2003.4 L1138.2 2007.1 L1136.7 2010.8 L1135.2 2014.5 L1133.8 2018.2 L1132.4 2022.0 L1131.0 2025.7 L1129.6 2029.5 L1128.2 2033.2 L1126.8 2037.0 L1125.5 2040.8 L1124.2 2044.5 L1122.9 2048.3 L1121.6 2052.1 L1120.3 2055.9 L1119.0 2059.7 L1117.8 2063.5 L1116.5 2067.3 L1115.3 2071.2 L1114.1 2075.0 L1112.9 2078.8 L1111.7 2082.7 L1110.5 2086.5 L1109.3 2090.3 L1108.1 2094.2 L1106.9 2098.0 L1105.8 2101.9 L1104.6 2105.8 L1103.5 2109.6 L1102.3 2113.5 L1101.2 2117.3 L1100.0 2121.2 L1098.9 2125.1 L1097.8 2128.9 L1096.6 2132.8 L1095.5 2136.7 L1094.4 2140.5 L1093.2 2144.4 L1092.1 2148.2 L1091.0 2152.1 L1089.9 2156.0 L1088.7 2159.8 L1087.6 2163.7 L1086.5 2167.5 L1085.3 2171.4 L1084.2 2175.3 L1083.0 2179.1 L1081.9 2183.0 L1080.7 2186.8 L1079.5 2190.6 L1078.4 2194.5 L1077.2 2198.3 L1076.0 2202.1 L1074.8 2206.0 L1073.6 2209.8 L1072.4 2213.6 L1071.2 2217.4 L1069.9 2221.2 L1068.7 2225.0 L1067.5 2228.8 L1066.2 2232.6 L1064.9 2236.4 L1063.6 2240.2 L1062.3 2244.0 L1061.0 2247.7 L1059.7 2251.5 L1058.4 2255.2 L1057.0 2259.0 L1055.7 2262.7 L1054.3 2266.4 L1052.9 2270.2 L1051.5 2273.9 L1050.1 2277.6 L1048.6 2281.3 L1047.1 2285.0 L1045.7 2288.7 L1044.2 2292.3 L1042.7 2296.0 L1041.1 2299.6 L1039.6 2303.3 L1038.0 2306.9 L1036.4 2310.5 L1034.8 2314.1 L1033.1 2317.7 L1031.5 2321.3 L1029.8 2324.9 L1028.1 2328.5 L1026.4 2332.0 L1024.6 2335.6 L1022.8 2339.1 L1021.0 2342.6 L1019.2 2346.1 L1017.3 2349.6 L1015.5 2353.1 L1013.5 2356.5 L1011.6 2360.0 L1009.6 2363.4 L1007.6 2366.8 L1005.6 2370.2 L1003.5 2373.6 L1001.4 2376.9 L999.3 2380.3 L997.1 2383.6 L994.9 2386.9 L992.7 2390.1 L990.4 2393.4 L988.1 2396.6 L985.8 2399.9 L983.4 2403.1 L981.0 2406.2 L978.6 2409.4 L976.1 2412.5 L973.6 2415.6 L971.1 2418.7 L968.5 2421.8 L965.9 2424.8 L963.3 2427.8 L960.7 2430.8 L958.0 2433.7 L955.3 2436.7 L952.5 2439.6 L949.7 2442.5 L946.9 2445.3 L944.1 2448.1 L941.2 2450.9 L938.4 2453.7 L935.4 2456.4 L932.5 2459.1 L929.5 2461.8 L926.6 2464.5 L923.5 2467.1 L920.5 2469.7 L917.4 2472.2 L914.4 2474.7 L911.3 2477.2 L908.1 2479.7 L905.0 2482.2 L901.8 2484.6 L898.6 2487.0 L895.4 2489.3 L892.2 2491.6 L888.9 2494.0 L885.6 2496.2 L882.3 2498.5 L879.0 2500.7 L875.7 2502.9 L872.3 2505.1 L868.9 2507.2 L865.6 2509.3 L862.1 2511.4 L858.7 2513.5 L855.3 2515.6 L851.8 2517.6 L848.4 2519.6 L844.9 2521.6 L841.4 2523.5 L837.8 2525.5 L834.3 2527.4 L830.8 2529.3 L827.2 2531.1 L823.6 2533.0 L820.1 2534.8 L816.5 2536.6 L812.8 2538.4 L809.2 2540.2 L805.6 2541.9 L802.0 2543.7 L798.3 2545.4 L794.6 2547.0 L791.0 2548.7 L787.3 2550.4 L783.6 2552.0 L779.9 2553.6 L776.2 2555.2 L772.5 2556.8 L768.8 2558.4 L765.0 2559.9 L761.3 2561.4 L757.6 2562.9 L753.8 2564.4 L750.1 2565.9 L746.3 2567.4 L742.5 2568.8 L738.8 2570.3 L735.0 2571.7 L731.2 2573.1 L727.5 2574.5 L723.7 2575.9 L719.9 2577.3 L716.1 2578.6 L712.3 2580.0 L708.6 2581.3 L704.8 2582.6 L701.0 2583.9 L697.2 2585.2 L693.4 2586.5 L689.6 2587.8 L685.8 2589.0 L682.0 2590.3 L678.2 2591.5 L674.4 2592.7 L670.6 2594.0 L666.8 2595.2 L663.0 2596.4 L659.2 2597.5 L655.3 2598.7 L651.5 2599.9 L647.7 2601.0 L643.9 2602.2 L640.1 2603.3 L636.2 2604.4 L632.4 2605.5 L628.6 2606.6 L624.8 2607.7 L620.9 2608.8 L617.1 2609.9 L613.3 2610.9 L609.4 2612.0 L605.6 2613.0 L601.7 2614.1 L597.9 2615.1 L594.0 2616.1 L590.2 2617.1 L586.3 2618.2 L582.5 2619.2 L578.6 2620.1 L574.8 2621.1 L570.9 2622.1 L567.1 2623.1 L563.2 2624.0 L559.3 2625.0 L555.5 2625.9 L551.6 2626.9 L547.8 2627.8 L543.9 2628.7 L540.0 2629.7 L536.1 2630.6 L532.3 2631.5 L528.4 2632.4 L524.5 2633.3 L520.6 2634.2 L516.7 2635.1 L512.9 2636.0 L509.0 2636.9 L505.1 2637.7 L501.2 2638.6 L497.3 2639.5 L493.4 2640.3 L489.5 2641.2 L485.6 2642.0 L481.7 2642.9 L477.8 2643.7 L473.9 2644.6 L470.0 2645.4 L466.1 2646.3 L462.2 2647.1 L458.3 2647.9 L454.4 2648.7 L450.4 2649.6 L446.5 2650.4 L442.6 2651.2 L438.7 2652.0 L434.8 2652.8 L430.9 2653.6 L426.9 2654.5 L423.0 2655.3 L419.1 2656.1 L415.1 2656.9 L411.2 2657.7 L407.3 2658.5 L403.3 2659.3 L399.4 2660.1 L395.5 2660.9 L391.5 2661.7 L387.6 2662.5 L383.6 2663.3 L379.7 2664.1 L375.8 2664.9 L371.8 2665.7 L367.9 2666.5 L363.9 2667.3 L360.0 2668.1 L356.0 2668.9" fill="none" stroke="#000" stroke-width="9.8" stroke-linejoin="round" stroke-linecap="butt"/>
<path d="M356.0 2668.9 L359.9 2668.1 L363.7 2667.3 L367.6 2666.4 L371.4 2665.6 L375.3 2664.8 L379.2 2664.0 L383.0 2663.2 L386.9 2662.4 L390.8 2661.6 L394.7 2660.8 L398.6 2660.0 L402.5 2659.2 L406.4 2658.4 L410.3 2657.7 L414.2 2656.9 L418.1 2656.1 L422.0 2655.3 L425.9 2654.5 L429.8 2653.8 L433.7 2653.0 L437.6 2652.2 L441.5 2651.4 L445.5 2650.7 L449.4 2649.9 L453.3 2649.1 L457.2 2648.3 L461.2 2647.6 L465.1 2646.8 L469.0 2646.0 L473.0 2645.3 L476.9 2644.5 L480.8 2643.7 L484.8 2642.9 L488.7 2642.2 L492.7 2641.4 L496.6 2640.6 L500.5 2639.8 L504.5 2639.0 L508.4 2638.2 L512.4 2637.5 L516.3 2636.7 L520.3 2635.9 L524.2 2635.1 L528.2 2634.3 L532.1 2633.5 L536.1 2632.7 L540.0 2631.9 L543.9 2631.0 L547.9 2630.2 L551.8 2629.4 L555.8 2628.6 L559.7 2627.7 L563.7 2626.9 L567.6 2626.1 L571.6 2625.2 L575.5 2624.4 L579.4 2623.5 L583.4 2622.7 L587.3 2621.8 L591.2 2620.9 L595.2 2620.0 L599.1 2619.2 L603.0 2618.3 L607.0 2617.4 L610.9 2616.5 L614.8 2615.5 L618.7 2614.6 L622.7 2613.7 L626.6 2612.8 L630.5 2611.8 L634.4 2610.9 L638.3 2609.9 L642.2 2608.9 L646.1 2608.0 L650.0 2607.0 L653.9 2606.0 L657.8 2605.0 L661.7 2604.0 L665.6 2603.0 L669.5 2601.9 L673.4 2600.9 L677.2 2599.9 L681.1 2598.8 L685.0 2597.7 L688.8 2596.6 L692.7 2595.6 L696.6 2594.5 L700.4 2593.3 L704.3 2592.2 L708.1 2591.1 L711.9 2589.9 L715.8 2588.8 L719.6 2587.6 L723.4 2586.4 L727.2 2585.3 L731.1 2584.0 L734.9 2582.8 L738.7 2581.6 L742.5 2580.4 L746.3 2579.1 L750.0 2577.8 L753.8 2576.6 L757.6 2575.3 L761.4 2573.9 L765.1 2572.6 L768.9 2571.3 L772.6 2569.9 L776.4 2568.6 L780.1 2567.2 L783.9 2565.8 L787.6 2564.4 L791.3 2563.0 L795.0 2561.5 L798.7 2560.1 L802.4 2558.6 L806.1 2557.1 L809.8 2555.6 L813.5 2554.1 L817.1 2552.5 L820.8 2551.0 L824.4 2549.4 L828.1 2547.8 L831.7 2546.2 L835.3 2544.6 L839.0 2543.0 L842.6 2541.3 L846.2 2539.6 L849.8 2538.0 L853.4 2536.2 L856.9 2534.5 L860.5 2532.8 L864.1 2531.0 L867.6 2529.2 L871.2 2527.4 L874.7 2525.6 L878.2 2523.7 L881.7 2521.9 L885.2 2520.0 L888.7 2518.1 L892.2 2516.2 L895.7 2514.2 L899.2 2512.3 L902.6 2510.3 L906.1 2508.3 L909.5 2506.3 L912.9 2504.2 L916.4 2502.2 L919.8 2500.1 L923.2 2498.0 L926.5 2495.8 L929.9 2493.7 L933.3 2491.5 L936.6 2489.3 L940.0 2487.1 L943.3 2484.8 L946.6 2482.6 L949.9 2480.3 L953.2 2478.0 L956.5 2475.6 L959.8 2473.3 L963.0 2470.9 L966.2 2468.5 L969.5 2466.1 L972.7 2463.6 L975.9 2461.1 L979.0 2458.6 L982.2 2456.1 L985.3 2453.6 L988.4 2451.0 L991.5 2448.4 L994.6 2445.8 L997.6 2443.2 L1000.7 2440.5 L1003.7 2437.8 L1006.7 2435.1 L1009.6 2432.4 L1012.5 2429.7 L1015.5 2426.9 L1018.3 2424.1 L1021.2 2421.3 L1024.0 2418.5 L1026.8 2415.6 L1029.6 2412.7 L1032.4 2409.8 L1035.1 2406.9 L1037.8 2403.9 L1040.4 2400.9 L1043.1 2397.9 L1045.7 2394.9 L1048.2 2391.9 L1050.8 2388.8 L1053.3 2385.7 L1055.7 2382.6 L1058.2 2379.5 L1060.6 2376.3 L1062.9 2373.1 L1065.2 2369.9 L1067.5 2366.7 L1069.8 2363.4 L1072.0 2360.1 L1074.2 2356.8 L1076.3 2353.5 L1078.4 2350.2 L1080.5 2346.8 L1082.5 2343.4 L1084.5 2340.0 L1086.4 2336.6 L1088.3 2333.1 L1090.1 2329.6 L1092.0 2326.1 L1093.7 2322.6 L1095.5 2319.1 L1097.2 2315.5 L1098.9 2311.9 L1100.6 2308.3 L1102.2 2304.7 L1103.8 2301.1 L1105.4 2297.4 L1106.9 2293.8 L1108.5 2290.1 L1110.0 2286.4 L1111.5 2282.7 L1112.9 2279.0 L1114.4 2275.3 L1115.8 2271.6 L1117.3 2267.9 L1118.7 2264.1 L1120.1 2260.4 L1121.5 2256.6 L1122.9 2252.8 L1124.2 2249.0 L1125.6 2245.3 L1126.9 2241.5 L1128.3 2237.7 L1129.6 2233.9 L1130.9 2230.1 L1132.2 2226.3 L1133.5 2222.5 L1134.8 2218.7 L1136.1 2214.9 L1137.4 2211.1 L1138.6 2207.3 L1139.9 2203.5 L1141.2 2199.7 L1142.4 2195.9 L1143.7 2192.1 L1144.9 2188.3 L1146.1 2184.5 L1147.3 2180.7 L1148.6 2177.0 L1149.8 2173.2 L1151.0 2169.4 L1152.2 2165.6 L1153.4 2161.8 L1154.6 2158.0 L1155.8 2154.2 L1157.0 2150.5 L1158.1 2146.7 L1159.3 2142.9 L1160.5 2139.1 L1161.7 2135.3 L1162.9 2131.5 L1164.0 2127.7 L1165.2 2124.0 L1166.4 2120.2 L1167.5 2116.4 L1168.7 2112.6 L1169.9 2108.8 L1171.0 2105.0 L1172.2 2101.2 L1173.4 2097.4 L1174.5 2093.6 L1175.7 2089.8 L1176.9 2086.0 L1178.0 2082.2 L1179.2 2078.4 L1180.4 2074.5 L1181.5 2070.7 L1182.7 2066.9 L1183.9 2063.1 L1185.1 2059.3 L1186.3 2055.4 L1187.4 2051.6 L1188.6 2047.7 L1189.8 2043.9 L1191.0 2040.1 L1192.2 2036.2 L1193.4 2032.4 L1194.7 2028.5 L1195.9 2024.7 L1197.1 2020.8 L1198.4 2017.0 L1199.6 2013.1 L1200.9 2009.3 L1202.2 2005.5 L1203.5 2001.6 L1204.8 1997.8 L1206.1 1994.0 L1207.5 1990.2 L1208.8 1986.4 L1210.2 1982.6 L1211.6 1978.8 L1213.0 1975.0 L1214.4 1971.2 L1215.9 1967.5 L1217.4 1963.7 L1218.9 1960.0 L1220.4 1956.2 L1221.9 1952.5 L1223.5 1948.8 L1225.1 1945.1 L1226.7 1941.4 L1228.3 1937.8 L1230.0 1934.1 L1231.7 1930.5 L1233.4 1926.9 L1235.2 1923.3 L1237.0 1919.7 L1238.8 1916.2 L1240.6 1912.6 L1242.5 1909.1 L1244.4 1905.6 L1246.3 1902.1 L1248.3 1898.6 L1250.3 1895.2 L1252.3 1891.8 L1254.4 1888.4 L1256.5 1885.0 L1258.6 1881.7 L1260.7 1878.4 L1262.9 1875.1 L1265.2 1871.8 L1267.4 1868.6 L1269.7 1865.4 L1272.1 1862.2 L1274.5 1859.1 L1276.9 1855.9 L1279.3 1852.8 L1281.8 1849.8 L1284.3 1846.7 L1286.9 1843.7 L1289.4 1840.7 L1292.1 1837.8 L1294.7 1834.8 L1297.4 1831.9 L1300.1 1829.1 L1302.8 1826.2 L1305.6 1823.4 L1308.4 1820.6 L1311.2 1817.8 L1314.1 1815.1 L1317.0 1812.4 L1319.9 1809.7 L1322.8 1807.0 L1325.8 1804.4 L1328.8 1801.7 L1331.8 1799.1 L1334.8 1796.6 L1337.9 1794.0 L1341.0 1791.5 L1344.1 1789.0 L1347.2 1786.6 L1350.4 1784.1 L1353.5 1781.7 L1356.7 1779.3 L1359.9 1776.9 L1363.2 1774.6 L1366.4 1772.2 L1369.7 1769.9 L1373.0 1767.6 L1376.3 1765.4 L1379.6 1763.1 L1383.0 1760.9 L1386.3 1758.7 L1389.7 1756.5 L1393.1 1754.4 L1396.5 1752.3 L1399.9 1750.1 L1403.4 1748.1 L1406.8 1746.0 L1410.3 1743.9 L1413.7 1741.9 L1417.2 1739.9 L1420.7 1737.9 L1424.2 1736.0 L1427.7 1734.0 L1431.2 1732.1 L1434.8 1730.2 L1438.3 1728.3 L1441.9 1726.4 L1445.4 1724.6 L1449.0 1722.7 L1452.5 1720.9 L1456.1 1719.1 L1459.7 1717.4 L1463.3 1715.6 L1466.9 1713.9 L1470.5 1712.2 L1474.1 1710.5 L1477.8 1708.8 L1481.4 1707.1 L1485.1 1705.5 L1488.7 1703.8 L1492.4 1702.2 L1496.0 1700.6 L1499.7 1699.0 L1503.4 1697.4 L1507.1 1695.9 L1510.7 1694.4 L1514.4 1692.8 L1518.1 1691.3 L1521.9 1689.9 L1525.6 1688.4 L1529.3 1686.9 L1533.0 1685.5 L1536.8 1684.0 L1540.5 1682.6 L1544.3 1681.2 L1548.0 1679.9 L1551.8 1678.5 L1555.5 1677.1 L1559.3 1675.8 L1563.1 1674.4 L1566.9 1673.1 L1570.6 1671.8 L1574.4 1670.5 L1578.2 1669.3 L1582.0 1668.0 L1585.8 1666.7 L1589.6 1665.5 L1593.5 1664.3 L1597.3 1663.1 L1601.1 1661.9 L1604.9 1660.7 L1608.8 1659.5 L1612.6 1658.3 L1616.4 1657.2 L1620.3 1656.0 L1624.1 1654.9 L1628.0 1653.7 L1631.8 1652.6 L1635.7 1651.5 L1639.6 1650.4 L1643.4 1649.3 L1647.3 1648.3 L1651.2 1647.2 L1655.0 1646.2 L1658.9 1645.1 L1662.8 1644.1 L1666.7 1643.0 L1670.6 1642.0 L1674.5 1641.0 L1678.4 1640.0 L1682.3 1639.0 L1686.1 1638.0 L1690.0 1637.0 L1693.9 1636.1 L1697.9 1635.1 L1701.8 1634.2 L1705.7 1633.2 L1709.6 1632.3 L1713.5 1631.3 L1717.4 1630.4 L1721.3 1629.5 L1725.2 1628.6 L1729.1 1627.7 L1733.1 1626.7 L1737.0 1625.8 L1740.9 1625.0 L1744.8 1624.1 L1748.7 1623.2 L1752.7 1622.3 L1756.6 1621.4 L1760.5 1620.6 L1764.4 1619.7 L1768.4 1618.9 L1772.3 1618.0 L1776.2 1617.2 L1780.1 1616.3 L1784.0 1615.5 L1788.0 1614.6 L1791.9 1613.8 L1795.8 1613.0 L1799.7 1612.1 L1803.7 1611.3 L1807.6 1610.5 L1811.5 1609.7 L1815.4 1608.9 L1819.3 1608.0 L1823.3 1607.2 L1827.2 1606.4 L1831.1 1605.6 L1835.0 1604.8 L1838.9 1604.0 L1842.8 1603.2 L1846.7 1602.4 L1850.6 1601.6 L1854.6 1600.8 L1858.5 1600.0 L1862.4 1599.2 L1866.3 1598.4 L1870.2 1597.6 L1874.1 1596.8 L1877.9 1596.0 L1881.8 1595.2 L1885.7 1594.4 L1889.6 1593.5 L1893.5 1592.7 L1897.4 1591.9 L1901.3 1591.1 L1905.1 1590.3 L1909.0 1589.5" fill="none" stroke="#000" stroke-width="9.8" stroke-linejoin="round" stroke-linecap="butt"/>
<path d="M1131.0 2131.0 L1132.6 2127.0 L1134.0 2123.1 L1135.3 2119.2 L1136.5 2115.3 L1137.7 2111.6 L1138.9 2107.8 L1140.2 2104.1 L1141.6 2100.4 L1143.1 2096.8 L1144.8 2093.1 L1146.8 2089.5 L1149.0 2086.0 L1151.3 2082.4 L1153.5 2078.9 L1155.6 2075.4 L1157.5 2071.8 L1159.3 2068.3 L1161.0 2064.8 L1162.7 2061.3 L1164.5 2057.8 L1166.5 2054.3 L1168.7 2050.7 L1171.1 2047.2 L1173.4 2043.6 L1175.5 2040.0 L1177.3 2036.4 L1178.7 2032.8 L1180.0 2029.1 L1181.3 2025.5 L1182.7 2021.8 L1184.1 2018.1 L1185.7 2014.4 L1187.4 2010.7 L1189.2 2007.0 L1191.1 2003.3 L1193.1 1999.6 L1195.2 1996.0 L1197.2 1992.3 L1199.2 1988.7 L1201.1 1985.1 L1202.9 1981.5 L1204.6 1977.9 L1206.3 1974.4 L1208.0 1970.8 L1209.8 1967.3 L1211.8 1963.7 L1213.9 1960.2 L1216.2 1956.6 L1218.9 1953.0 L1221.8 1950.0 L1225.2 1948.8" fill="none" stroke="#000" stroke-width="9.8" stroke-linejoin="round" stroke-linecap="butt"/>
<path d="M357.9 2555.1 L361.7 2554.2 L365.5 2553.3 L369.3 2552.3 L373.0 2551.4 L376.8 2550.5 L380.6 2549.6 L384.4 2548.7 L388.3 2547.8 L392.1 2546.8 L395.9 2545.9 L399.7 2545.0 L403.5 2544.1 L407.4 2543.2 L411.2 2542.3 L415.1 2541.4 L418.9 2540.4 L422.7 2539.5 L426.6 2538.6 L430.5 2537.7 L434.3 2536.8 L438.2 2535.9 L442.1 2534.9 L445.9 2534.0 L449.8 2533.1 L453.7 2532.2 L457.6 2531.2 L461.4 2530.3 L465.3 2529.4 L469.2 2528.5 L473.1 2527.5 L477.0 2526.6 L480.9 2525.6 L484.8 2524.7 L488.7 2523.8 L492.6 2522.8 L496.5 2521.9 L500.4 2520.9 L504.3 2519.9 L508.2 2519.0 L512.1 2518.0 L516.0 2517.1 L520.0 2516.1 L523.9 2515.1 L527.8 2514.1 L531.7 2513.1 L535.6 2512.1 L539.5 2511.2 L543.4 2510.2 L547.3 2509.2 L551.3 2508.1 L555.2 2507.1 L559.1 2506.1 L563.0 2505.1 L566.9 2504.1 L570.8 2503.0 L574.7 2502.0 L578.7 2500.9 L582.6 2499.9 L586.5 2498.8 L590.4 2497.7 L594.3 2496.7 L598.2 2495.6 L602.1 2494.5 L606.0 2493.4 L609.9 2492.3 L613.8 2491.2 L617.7 2490.1 L621.6 2489.0 L625.5 2487.8 L629.4 2486.7 L633.2 2485.5 L637.1 2484.4 L641.0 2483.2 L644.9 2482.1 L648.8 2480.9 L652.6 2479.7 L656.5 2478.5 L660.4 2477.3 L664.2 2476.1 L668.1 2474.8 L671.9 2473.6 L675.8 2472.4 L679.6 2471.1 L683.5 2469.8 L687.3 2468.6 L691.1 2467.3 L695.0 2466.0 L698.8 2464.7 L702.6 2463.4 L706.4 2462.0 L710.2 2460.7 L714.0 2459.4 L717.8 2458.0 L721.6 2456.6 L725.4 2455.2 L729.2 2453.8 L733.0 2452.4 L736.8 2451.0 L740.5 2449.6 L744.3 2448.2 L748.0 2446.7 L751.8 2445.2 L755.5 2443.8 L759.2 2442.3 L763.0 2440.8 L766.7 2439.3 L770.4 2437.7 L774.1 2436.2 L777.8 2434.6 L781.5 2433.1 L785.2 2431.5 L788.9 2429.9 L792.5 2428.3 L796.2 2426.7 L799.8 2425.0 L803.5 2423.4 L807.1 2421.7 L810.7 2420.0 L814.4 2418.3 L818.0 2416.6 L821.6 2414.9 L825.2 2413.2 L828.7 2411.4 L832.3 2409.6 L835.9 2407.8 L839.4 2406.0 L843.0 2404.2 L846.5 2402.4 L850.0 2400.5 L853.6 2398.7 L857.1 2396.8 L860.6 2394.9 L864.1 2393.0 L867.5 2391.0 L871.0 2389.1 L874.5 2387.1 L877.9 2385.1 L881.3 2383.1 L884.8 2381.1 L888.2 2379.1 L891.6 2377.0 L895.0 2375.0 L898.3 2372.9 L901.7 2370.8 L905.1 2368.6 L908.4 2366.5 L911.7 2364.3 L915.1 2362.1 L918.4 2359.9 L921.7 2357.7 L924.9 2355.5 L928.2 2353.2 L931.5 2350.9 L934.7 2348.6 L938.0 2346.3 L941.2 2344.0 L944.4 2341.6 L947.6 2339.3 L950.8 2336.9 L953.9 2334.5 L957.1 2332.1 L960.2 2329.6 L963.3 2327.1 L966.4 2324.7 L969.5 2322.2 L972.6 2319.7 L975.7 2317.1 L978.7 2314.6 L981.8 2312.0 L984.8 2309.4 L987.8 2306.8 L990.8 2304.2 L993.8 2301.5 L996.7 2298.9 L999.7 2296.2 L1002.6 2293.5 L1005.5 2290.8 L1008.4 2288.1 L1011.3 2285.3 L1014.2 2282.6 L1017.0 2279.8 L1019.9 2277.0 L1022.7 2274.2 L1025.5 2271.3 L1028.3 2268.5 L1031.1 2265.6 L1033.8 2262.8 L1036.5 2259.9 L1039.3 2256.9 L1042.0 2254.0 L1044.6 2251.1 L1047.3 2248.1 L1049.9 2245.1 L1052.6 2242.1 L1055.2 2239.1 L1057.8 2236.1 L1060.3 2233.1 L1062.9 2230.0 L1065.4 2226.9 L1068.0 2223.8 L1070.5 2220.7 L1072.9 2217.6 L1075.4 2214.5 L1077.8 2211.3 L1080.3 2208.2 L1082.7 2205.0 L1085.0 2201.8 L1087.4 2198.6 L1089.7 2195.4 L1092.1 2192.1 L1094.4 2188.9 L1096.6 2185.6 L1098.9 2182.3 L1101.2 2179.0 L1103.4 2175.7 L1105.6 2172.4 L1107.8 2169.0 L1109.9 2165.7 L1112.1 2162.3 L1114.2 2158.9 L1116.3 2155.5 L1118.4 2152.1 L1120.5 2148.7 L1122.6 2145.3 L1124.7 2141.9 L1126.7 2138.5 L1128.8 2135.1 L1130.9 2131.6 L1132.9 2128.2 L1135.0 2124.8 L1137.0 2121.3 L1139.1 2117.9 L1141.2 2114.5 L1143.2 2111.1 L1145.3 2107.6 L1147.4 2104.2 L1149.4 2100.8 L1151.5 2097.4 L1153.6 2094.0 L1155.7 2090.6 L1157.9 2087.2 L1160.0 2083.8 L1162.2 2080.5 L1164.3 2077.1 L1166.5 2073.8 L1168.7 2070.4 L1170.9 2067.1 L1173.2 2063.8 L1175.5 2060.5 L1177.8 2057.2 L1180.1 2054.0 L1182.4 2050.8 L1184.8 2047.5 L1187.2 2044.3 L1189.6 2041.1 L1192.0 2038.0 L1194.5 2034.8 L1196.9 2031.7 L1199.4 2028.5 L1201.9 2025.4 L1204.5 2022.3 L1207.0 2019.3 L1209.6 2016.2 L1212.2 2013.2 L1214.8 2010.1 L1217.5 2007.1 L1220.1 2004.1 L1222.8 2001.2 L1225.5 1998.2 L1228.2 1995.3 L1230.9 1992.4 L1233.7 1989.5 L1236.5 1986.6 L1239.2 1983.7 L1242.0 1980.9 L1244.9 1978.0 L1247.7 1975.2 L1250.6 1972.4 L1253.4 1969.7 L1256.3 1966.9 L1259.2 1964.2 L1262.2 1961.4 L1265.1 1958.7 L1268.1 1956.1 L1271.0 1953.4 L1274.0 1950.7 L1277.0 1948.1 L1280.1 1945.5 L1283.1 1942.9 L1286.2 1940.4 L1289.2 1937.8 L1292.3 1935.3 L1295.4 1932.8 L1298.5 1930.3 L1301.6 1927.8 L1304.8 1925.3 L1307.9 1922.9 L1311.1 1920.5 L1314.3 1918.1 L1317.5 1915.7 L1320.7 1913.4 L1323.9 1911.0 L1327.1 1908.7 L1330.4 1906.4 L1333.6 1904.2 L1336.9 1901.9 L1340.2 1899.7 L1343.4 1897.4 L1346.8 1895.2 L1350.1 1893.1 L1353.4 1890.9 L1356.7 1888.8 L1360.1 1886.6 L1363.5 1884.5 L1366.8 1882.4 L1370.2 1880.3 L1373.6 1878.3 L1377.0 1876.3 L1380.4 1874.2 L1383.9 1872.2 L1387.3 1870.2 L1390.8 1868.3 L1394.2 1866.3 L1397.7 1864.4 L1401.2 1862.5 L1404.7 1860.6 L1408.2 1858.7 L1411.7 1856.8 L1415.2 1854.9 L1418.7 1853.1 L1422.3 1851.3 L1425.8 1849.5 L1429.4 1847.7 L1432.9 1845.9 L1436.5 1844.1 L1440.1 1842.4 L1443.7 1840.7 L1447.3 1838.9 L1450.9 1837.2 L1454.5 1835.5 L1458.2 1833.9 L1461.8 1832.2 L1465.5 1830.6 L1469.1 1828.9 L1472.8 1827.3 L1476.4 1825.7 L1480.1 1824.1 L1483.8 1822.6 L1487.5 1821.0 L1491.2 1819.4 L1494.9 1817.9 L1498.6 1816.4 L1502.3 1814.9 L1506.1 1813.4 L1509.8 1811.9 L1513.5 1810.4 L1517.3 1809.0 L1521.0 1807.5 L1524.8 1806.1 L1528.5 1804.7 L1532.3 1803.3 L1536.1 1801.9 L1539.9 1800.5 L1543.7 1799.1 L1547.5 1797.7 L1551.3 1796.4 L1555.1 1795.1 L1558.9 1793.7 L1562.7 1792.4 L1566.5 1791.1 L1570.3 1789.8 L1574.2 1788.5 L1578.0 1787.2 L1581.8 1786.0 L1585.7 1784.7 L1589.5 1783.5 L1593.4 1782.2 L1597.2 1781.0 L1601.1 1779.8 L1604.9 1778.6 L1608.8 1777.4 L1612.7 1776.2 L1616.5 1775.0 L1620.4 1773.9 L1624.3 1772.7 L1628.2 1771.6 L1632.0 1770.4 L1635.9 1769.3 L1639.8 1768.2 L1643.7 1767.0 L1647.6 1765.9 L1651.5 1764.8 L1655.4 1763.7 L1659.3 1762.7 L1663.2 1761.6 L1667.1 1760.5 L1671.0 1759.4 L1674.9 1758.4 L1678.8 1757.3 L1682.7 1756.3 L1686.7 1755.3 L1690.6 1754.2 L1694.5 1753.2 L1698.4 1752.2 L1702.3 1751.2 L1706.2 1750.2 L1710.1 1749.2 L1714.1 1748.2 L1718.0 1747.2 L1721.9 1746.3 L1725.8 1745.3 L1729.7 1744.3 L1733.6 1743.4 L1737.6 1742.4 L1741.5 1741.5 L1745.4 1740.5 L1749.3 1739.6 L1753.2 1738.6 L1757.1 1737.7 L1761.0 1736.8 L1765.0 1735.9 L1768.9 1734.9 L1772.8 1734.0 L1776.7 1733.1 L1780.6 1732.2 L1784.5 1731.3 L1788.4 1730.4 L1792.3 1729.5 L1796.2 1728.6 L1800.1 1727.7 L1804.0 1726.8 L1807.9 1726.0 L1811.7 1725.1 L1815.6 1724.2 L1819.5 1723.3 L1823.4 1722.5 L1827.3 1721.6 L1831.1 1720.7 L1835.0 1719.9 L1838.9 1719.0 L1842.7 1718.1 L1846.6 1717.3 L1850.5 1716.4 L1854.3 1715.6 L1858.2 1714.7 L1862.0 1713.8 L1865.8 1713.0 L1869.7 1712.1 L1873.5 1711.3 L1877.3 1710.4 L1881.2 1709.6 L1885.0 1708.7 L1888.8 1707.9 L1892.6 1707.0 L1896.4 1706.2 L1900.2 1705.3 L1904.0 1704.5" fill="none" stroke="#f00" stroke-width="11.0" stroke-linejoin="round" stroke-linecap="round"/>
<path d="M358.0 2191.9L364.6 2204.5L351.4 2204.5ZM366.0 2191.2L372.6 2203.8L359.4 2203.8ZM374.0 2190.4L380.6 2203.0L367.4 2203.0ZM382.0 2189.7L388.6 2202.3L375.4 2202.3ZM390.0 2189.0L396.6 2201.6L383.4 2201.6ZM398.1 2188.3L404.7 2200.9L391.5 2200.9ZM406.1 2187.5L412.7 2200.1L399.5 2200.1ZM414.1 2186.8L420.7 2199.4L407.5 2199.4ZM422.1 2186.1L428.7 2198.7L415.5 2198.7ZM430.1 2185.3L436.7 2197.9L423.5 2197.9ZM438.1 2184.6L444.7 2197.2L431.5 2197.2ZM446.1 2183.9L452.7 2196.5L439.5 2196.5ZM454.1 2183.2L460.7 2195.8L447.5 2195.8ZM462.2 2182.4L468.8 2195.0L455.6 2195.0ZM470.2 2181.7L476.8 2194.3L463.6 2194.3ZM478.2 2181.0L484.8 2193.6L471.6 2193.6ZM486.2 2180.2L492.8 2192.8L479.6 2192.8ZM494.2 2179.5L500.8 2192.1L487.6 2192.1ZM502.2 2178.8L508.8 2191.4L495.6 2191.4ZM510.2 2178.0L516.8 2190.6L503.6 2190.6ZM518.2 2177.3L524.8 2189.9L511.6 2189.9ZM526.3 2176.6L532.9 2189.2L519.7 2189.2ZM534.3 2175.9L540.9 2188.5L527.7 2188.5ZM542.3 2175.1L548.9 2187.7L535.7 2187.7ZM550.3 2174.4L556.9 2187.0L543.7 2187.0ZM558.3 2173.7L564.9 2186.3L551.7 2186.3ZM566.3 2172.9L572.9 2185.5L559.7 2185.5ZM574.3 2172.2L580.9 2184.8L567.7 2184.8ZM582.3 2171.5L588.9 2184.1L575.7 2184.1ZM590.4 2170.8L597.0 2183.4L583.8 2183.4ZM598.4 2170.0L605.0 2182.6L591.8 2182.6ZM606.4 2169.3L613.0 2181.9L599.8 2181.9ZM614.4 2168.6L621.0 2181.2L607.8 2181.2ZM622.4 2167.8L629.0 2180.4L615.8 2180.4ZM630.4 2167.1L637.0 2179.7L623.8 2179.7ZM638.4 2166.4L645.0 2179.0L631.8 2179.0ZM646.4 2165.7L653.0 2178.3L639.8 2178.3ZM654.5 2164.9L661.1 2177.5L647.9 2177.5ZM662.5 2164.2L669.1 2176.8L655.9 2176.8ZM670.5 2163.5L677.1 2176.1L663.9 2176.1ZM678.5 2162.7L685.1 2175.3L671.9 2175.3ZM686.5 2162.0L693.1 2174.6L679.9 2174.6ZM694.5 2161.3L701.1 2173.9L687.9 2173.9ZM702.5 2160.6L709.1 2173.2L695.9 2173.2ZM710.5 2159.8L717.1 2172.4L703.9 2172.4ZM718.6 2159.1L725.2 2171.7L712.0 2171.7ZM726.6 2158.4L733.2 2171.0L720.0 2171.0ZM734.6 2157.6L741.2 2170.2L728.0 2170.2ZM742.6 2156.9L749.2 2169.5L736.0 2169.5ZM750.6 2156.2L757.2 2168.8L744.0 2168.8ZM758.6 2155.4L765.2 2168.0L752.0 2168.0ZM766.6 2154.7L773.2 2167.3L760.0 2167.3ZM774.6 2154.0L781.2 2166.6L768.0 2166.6ZM782.7 2153.3L789.3 2165.9L776.1 2165.9ZM790.7 2152.5L797.3 2165.1L784.1 2165.1ZM798.7 2151.8L805.3 2164.4L792.1 2164.4ZM806.7 2151.1L813.3 2163.7L800.1 2163.7ZM814.7 2150.3L821.3 2162.9L808.1 2162.9ZM822.7 2149.6L829.3 2162.2L816.1 2162.2ZM830.7 2148.9L837.3 2161.5L824.1 2161.5ZM838.7 2148.2L845.3 2160.8L832.1 2160.8ZM846.8 2147.4L853.4 2160.0L840.2 2160.0ZM854.8 2146.7L861.4 2159.3L848.2 2159.3ZM862.8 2146.0L869.4 2158.6L856.2 2158.6ZM870.8 2145.2L877.4 2157.8L864.2 2157.8ZM878.8 2144.5L885.4 2157.1L872.2 2157.1ZM886.8 2143.8L893.4 2156.4L880.2 2156.4ZM894.8 2143.1L901.4 2155.7L888.2 2155.7ZM902.8 2142.3L909.4 2154.9L896.2 2154.9ZM910.9 2141.6L917.5 2154.2L904.3 2154.2ZM918.9 2140.9L925.5 2153.5L912.3 2153.5ZM926.9 2140.1L933.5 2152.7L920.3 2152.7ZM934.9 2139.4L941.5 2152.0L928.3 2152.0ZM942.9 2138.7L949.5 2151.3L936.3 2151.3ZM950.9 2138.0L957.5 2150.6L944.3 2150.6ZM958.9 2137.2L965.5 2149.8L952.3 2149.8ZM966.9 2136.5L973.5 2149.1L960.3 2149.1ZM975.0 2135.8L981.6 2148.4L968.4 2148.4ZM983.0 2135.0L989.6 2147.6L976.4 2147.6ZM991.0 2134.3L997.6 2146.9L984.4 2146.9ZM999.0 2133.6L1005.6 2146.2L992.4 2146.2ZM1007.0 2132.8L1013.6 2145.4L1000.4 2145.4ZM1015.0 2132.1L1021.6 2144.7L1008.4 2144.7ZM1023.0 2131.4L1029.6 2144.0L1016.4 2144.0ZM1031.0 2130.7L1037.6 2143.3L1024.4 2143.3ZM1039.1 2129.9L1045.7 2142.5L1032.5 2142.5ZM1047.1 2129.2L1053.7 2141.8L1040.5 2141.8ZM1055.1 2128.5L1061.7 2141.1L1048.5 2141.1ZM1063.1 2127.7L1069.7 2140.3L1056.5 2140.3ZM1071.1 2127.0L1077.7 2139.6L1064.5 2139.6ZM1079.1 2126.3L1085.7 2138.9L1072.5 2138.9ZM1087.1 2125.6L1093.7 2138.2L1080.5 2138.2ZM1095.1 2124.8L1101.7 2137.4L1088.5 2137.4ZM1103.2 2124.1L1109.8 2136.7L1096.6 2136.7ZM1111.2 2123.4L1117.8 2136.0L1104.6 2136.0ZM1119.2 2122.6L1125.8 2135.2L1112.6 2135.2ZM1127.2 2121.9L1133.8 2134.5L1120.6 2134.5ZM1135.2 2121.2L1141.8 2133.8L1128.6 2133.8ZM1143.2 2120.5L1149.8 2133.1L1136.6 2133.1ZM1151.2 2119.7L1157.8 2132.3L1144.6 2132.3ZM1159.2 2119.0L1165.8 2131.6L1152.6 2131.6ZM1167.3 2118.3L1173.9 2130.9L1160.7 2130.9ZM1175.3 2117.5L1181.9 2130.1L1168.7 2130.1ZM1183.3 2116.8L1189.9 2129.4L1176.7 2129.4ZM1191.3 2116.1L1197.9 2128.7L1184.7 2128.7ZM1199.3 2115.4L1205.9 2128.0L1192.7 2128.0ZM1207.3 2114.6L1213.9 2127.2L1200.7 2127.2ZM1215.3 2113.9L1221.9 2126.5L1208.7 2126.5ZM1223.3 2113.2L1229.9 2125.8L1216.7 2125.8ZM1231.4 2112.4L1238.0 2125.0L1224.8 2125.0ZM1239.4 2111.7L1246.0 2124.3L1232.8 2124.3ZM1247.4 2111.0L1254.0 2123.6L1240.8 2123.6ZM1255.4 2110.3L1262.0 2122.9L1248.8 2122.9ZM1263.4 2109.5L1270.0 2122.1L1256.8 2122.1ZM1271.4 2108.8L1278.0 2121.4L1264.8 2121.4ZM1279.4 2108.1L1286.0 2120.7L1272.8 2120.7ZM1287.4 2107.3L1294.0 2119.9L1280.8 2119.9ZM1295.5 2106.6L1302.1 2119.2L1288.9 2119.2ZM1303.5 2105.9L1310.1 2118.5L1296.9 2118.5ZM1311.5 2105.1L1318.1 2117.7L1304.9 2117.7ZM1319.5 2104.4L1326.1 2117.0L1312.9 2117.0ZM1327.5 2103.7L1334.1 2116.3L1320.9 2116.3ZM1335.5 2103.0L1342.1 2115.6L1328.9 2115.6ZM1343.5 2102.2L1350.1 2114.8L1336.9 2114.8ZM1351.5 2101.5L1358.1 2114.1L1344.9 2114.1ZM1359.6 2100.8L1366.2 2113.4L1353.0 2113.4ZM1367.6 2100.0L1374.2 2112.6L1361.0 2112.6ZM1375.6 2099.3L1382.2 2111.9L1369.0 2111.9ZM1383.6 2098.6L1390.2 2111.2L1377.0 2111.2ZM1391.6 2097.9L1398.2 2110.5L1385.0 2110.5ZM1399.6 2097.1L1406.2 2109.7L1393.0 2109.7ZM1407.6 2096.4L1414.2 2109.0L1401.0 2109.0ZM1415.6 2095.7L1422.2 2108.3L1409.0 2108.3ZM1423.7 2094.9L1430.3 2107.5L1417.1 2107.5ZM1431.7 2094.2L1438.3 2106.8L1425.1 2106.8ZM1439.7 2093.5L1446.3 2106.1L1433.1 2106.1ZM1447.7 2092.8L1454.3 2105.4L1441.1 2105.4ZM1455.7 2092.0L1462.3 2104.6L1449.1 2104.6ZM1463.7 2091.3L1470.3 2103.9L1457.1 2103.9ZM1471.7 2090.6L1478.3 2103.2L1465.1 2103.2ZM1479.7 2089.8L1486.3 2102.4L1473.1 2102.4ZM1487.8 2089.1L1494.4 2101.7L1481.2 2101.7ZM1495.8 2088.4L1502.4 2101.0L1489.2 2101.0ZM1503.8 2087.7L1510.4 2100.3L1497.2 2100.3ZM1511.8 2086.9L1518.4 2099.5L1505.2 2099.5ZM1519.8 2086.2L1526.4 2098.8L1513.2 2098.8ZM1527.8 2085.5L1534.4 2098.1L1521.2 2098.1ZM1535.8 2084.7L1542.4 2097.3L1529.2 2097.3ZM1543.8 2084.0L1550.4 2096.6L1537.2 2096.6ZM1551.9 2083.3L1558.5 2095.9L1545.3 2095.9ZM1559.9 2082.5L1566.5 2095.1L1553.3 2095.1ZM1567.9 2081.8L1574.5 2094.4L1561.3 2094.4ZM1575.9 2081.1L1582.5 2093.7L1569.3 2093.7ZM1583.9 2080.4L1590.5 2093.0L1577.3 2093.0ZM1591.9 2079.6L1598.5 2092.2L1585.3 2092.2ZM1599.9 2078.9L1606.5 2091.5L1593.3 2091.5ZM1607.9 2078.2L1614.5 2090.8L1601.3 2090.8ZM1616.0 2077.4L1622.6 2090.0L1609.4 2090.0ZM1624.0 2076.7L1630.6 2089.3L1617.4 2089.3ZM1632.0 2076.0L1638.6 2088.6L1625.4 2088.6ZM1640.0 2075.3L1646.6 2087.9L1633.4 2087.9ZM1648.0 2074.5L1654.6 2087.1L1641.4 2087.1ZM1656.0 2073.8L1662.6 2086.4L1649.4 2086.4ZM1664.0 2073.1L1670.6 2085.7L1657.4 2085.7ZM1672.0 2072.3L1678.6 2084.9L1665.4 2084.9ZM1680.1 2071.6L1686.7 2084.2L1673.5 2084.2ZM1688.1 2070.9L1694.7 2083.5L1681.5 2083.5ZM1696.1 2070.2L1702.7 2082.8L1689.5 2082.8ZM1704.1 2069.4L1710.7 2082.0L1697.5 2082.0ZM1712.1 2068.7L1718.7 2081.3L1705.5 2081.3ZM1720.1 2068.0L1726.7 2080.6L1713.5 2080.6ZM1728.1 2067.2L1734.7 2079.8L1721.5 2079.8ZM1736.1 2066.5L1742.7 2079.1L1729.5 2079.1ZM1744.2 2065.8L1750.8 2078.4L1737.6 2078.4ZM1752.2 2065.1L1758.8 2077.7L1745.6 2077.7ZM1760.2 2064.3L1766.8 2076.9L1753.6 2076.9ZM1768.2 2063.6L1774.8 2076.2L1761.6 2076.2ZM1776.2 2062.9L1782.8 2075.5L1769.6 2075.5ZM1784.2 2062.1L1790.8 2074.7L1777.6 2074.7ZM1792.2 2061.4L1798.8 2074.0L1785.6 2074.0ZM1800.2 2060.7L1806.8 2073.3L1793.6 2073.3ZM1808.3 2059.9L1814.9 2072.5L1801.7 2072.5ZM1816.3 2059.2L1822.9 2071.8L1809.7 2071.8ZM1824.3 2058.5L1830.9 2071.1L1817.7 2071.1ZM1832.3 2057.8L1838.9 2070.4L1825.7 2070.4ZM1840.3 2057.0L1846.9 2069.6L1833.7 2069.6ZM1848.3 2056.3L1854.9 2068.9L1841.7 2068.9ZM1856.3 2055.6L1862.9 2068.2L1849.7 2068.2ZM1864.3 2054.8L1870.9 2067.4L1857.7 2067.4ZM1872.4 2054.1L1879.0 2066.7L1865.8 2066.7ZM1880.4 2053.4L1887.0 2066.0L1873.8 2066.0ZM1888.4 2052.7L1895.0 2065.3L1881.8 2065.3ZM1896.4 2051.9L1903.0 2064.5L1889.8 2064.5ZM1904.4 2051.2L1911.0 2063.8L1897.8 2063.8Z" fill="#00f"/>
<rect x="261" y="53" width="1670" height="1196.5" fill="none" stroke="#000" stroke-width="5.8"/>
<line x1="234" y1="1249.5" x2="261" y2="1249.5" stroke="#000" stroke-width="5.6" stroke-linecap="butt"/>
<line x1="246" y1="1149.79" x2="261" y2="1149.79" stroke="#000" stroke-width="5.6" stroke-linecap="butt"/>
<line x1="234" y1="1050.08" x2="261" y2="1050.08" stroke="#000" stroke-width="5.6" stroke-linecap="butt"/>
<line x1="246" y1="950.38" x2="261" y2="950.38" stroke="#000" stroke-width="5.6" stroke-linecap="butt"/>
<line x1="234" y1="850.67" x2="261" y2="850.67" stroke="#000" stroke-width="5.6" stroke-linecap="butt"/>
<line x1="246" y1="750.96" x2="261" y2="750.96" stroke="#000" stroke-width="5.6" stroke-linecap="butt"/>
<line x1="234" y1="651.25" x2="261" y2="651.25" stroke="#000" stroke-width="5.6" stroke-linecap="butt"/>
<line x1="246" y1="551.54" x2="261" y2="551.54" stroke="#000" stroke-width="5.6" stroke-linecap="butt"/>
<line x1="234" y1="451.83" x2="261" y2="451.83" stroke="#000" stroke-width="5.6" stroke-linecap="butt"/>
<line x1="246" y1="352.12" x2="261" y2="352.12" stroke="#000" stroke-width="5.6" stroke-linecap="butt"/>
<line x1="234" y1="252.42" x2="261" y2="252.42" stroke="#000" stroke-width="5.6" stroke-linecap="butt"/>
<line x1="246" y1="152.71" x2="261" y2="152.71" stroke="#000" stroke-width="5.6" stroke-linecap="butt"/>
<line x1="234" y1="53" x2="261" y2="53" stroke="#000" stroke-width="5.6" stroke-linecap="butt"/>
<line x1="261" y1="1249.5" x2="261" y2="1276" stroke="#000" stroke-width="6" stroke-linecap="butt"/>
<line x1="469.75" y1="1249.5" x2="469.75" y2="1263.5" stroke="#000" stroke-width="6" stroke-linecap="butt"/>
<line x1="678.5" y1="1249.5" x2="678.5" y2="1276" stroke="#000" stroke-width="6" stroke-linecap="butt"/>
<line x1="887.25" y1="1249.5" x2="887.25" y2="1263.5" stroke="#000" stroke-width="6" stroke-linecap="butt"/>
<line x1="1096" y1="1249.5" x2="1096" y2="1276" stroke="#000" stroke-width="6" stroke-linecap="butt"/>
<line x1="1304.75" y1="1249.5" x2="1304.75" y2="1263.5" stroke="#000" stroke-width="6" stroke-linecap="butt"/>
<line x1="1513.5" y1="1249.5" x2="1513.5" y2="1276" stroke="#000" stroke-width="6" stroke-linecap="butt"/>
<line x1="1722.25" y1="1249.5" x2="1722.25" y2="1263.5" stroke="#000" stroke-width="6" stroke-linecap="butt"/>
<line x1="1931" y1="1249.5" x2="1931" y2="1276" stroke="#000" stroke-width="6" stroke-linecap="butt"/>
<text font-family="'Liberation Sans', Arial, sans-serif" font-weight="bold" font-size="57" letter-spacing="0" fill="#000" transform="translate(140.95 68.4) scale(1 1.0707)">1.5</text>
<text font-family="'Liberation Sans', Arial, sans-serif" font-weight="bold" font-size="57" letter-spacing="0" fill="#000" transform="translate(141.7 267.82) scale(1 1.0707)">1.0</text>
<text font-family="'Liberation Sans', Arial, sans-serif" font-weight="bold" font-size="57" letter-spacing="0" fill="#000" transform="translate(140.95 467.23) scale(1 1.0707)">0.5</text>
<text font-family="'Liberation Sans', Arial, sans-serif" font-weight="bold" font-size="57" letter-spacing="0" fill="#000" transform="translate(141.7 666.65) scale(1 1.0707)">0.0</text>
<text font-family="'Liberation Sans', Arial, sans-serif" font-weight="bold" font-size="57" letter-spacing="0" fill="#000" transform="translate(121.97 866.07) scale(1 1.0707)">-0.5</text>
<text font-family="'Liberation Sans', Arial, sans-serif" font-weight="bold" font-size="57" letter-spacing="0" fill="#000" transform="translate(122.72 1065.48) scale(1 1.0707)">-1.0</text>
<text font-family="'Liberation Sans', Arial, sans-serif" font-weight="bold" font-size="57" letter-spacing="0" fill="#000" transform="translate(121.97 1264.9) scale(1 1.0707)">-1.5</text>
<text font-family="'Liberation Sans', Arial, sans-serif" font-weight="bold" font-size="57" letter-spacing="0" fill="#000" transform="translate(148.54 1332.6) scale(1 1.0355)">-800,000</text>
<text font-family="'Liberation Sans', Arial, sans-serif" font-weight="bold" font-size="57" letter-spacing="0" fill="#000" transform="translate(566.04 1332.6) scale(1 1.0355)">-400,000</text>
<text font-family="'Liberation Sans', Arial, sans-serif" font-weight="bold" font-size="57" letter-spacing="0" fill="#000" transform="translate(1080.19 1332.6) scale(1 1.0355)">0</text>
<text font-family="'Liberation Sans', Arial, sans-serif" font-weight="bold" font-size="57" letter-spacing="0" fill="#000" transform="translate(1411.22 1332.6) scale(1 1.0355)">400,000</text>
<text font-family="'Liberation Sans', Arial, sans-serif" font-weight="bold" font-size="57" letter-spacing="0" fill="#000" transform="translate(1828.24 1332.6) scale(1 1.0355)">800,000</text>
<text font-family="'Liberation Sans', Arial, sans-serif" font-weight="bold" font-size="58.88" letter-spacing="-0.84" fill="#000" transform="translate(686.73 1433.8) scale(1 1.0318)">Applied Magnetic Field ( A/m )</text>
<text font-family="'Liberation Sans', Arial, sans-serif" font-weight="bold" font-size="60.52" letter-spacing="-0.94" fill="#000" transform="translate(80 1030.9) rotate(-90) scale(1 1.0087)" x="-4.05" y="0">Magnetization ( Am</text>
<text font-family="'Liberation Sans', Arial, sans-serif" font-weight="bold" font-size="35.52" letter-spacing="0" fill="#000" transform="translate(47 494.9) rotate(-90) scale(1 1.0084)" x="-1.23" y="0">2</text>
<text font-family="'Liberation Sans', Arial, sans-serif" font-weight="bold" font-size="58.61" letter-spacing="0" fill="#000" transform="translate(80 475.8) rotate(-90) scale(1 1.0415)" x="-0.57" y="0">/kg )</text>
<text font-family="'Liberation Sans', Arial, sans-serif" font-weight="bold" font-size="59.78" letter-spacing="-0.73" fill="#000" transform="translate(322.82 135.6) scale(1 0.9829)">( a )</text>
<line x1="441" y1="254.5" x2="485" y2="254.5" stroke="#000" stroke-width="2.6" stroke-linecap="butt"/>
<line x1="521" y1="254.5" x2="565" y2="254.5" stroke="#000" stroke-width="2.6" stroke-linecap="butt"/>
<rect x="489.1" y="240.1" width="27.8" height="27.8" fill="#000"/><rect x="492" y="256.4" width="21.6" height="8.5" fill="#fff"/>
<line x1="441" y1="320.3" x2="485" y2="320.3" stroke="#f00" stroke-width="2.6" stroke-linecap="butt"/>
<line x1="521" y1="320.3" x2="565" y2="320.3" stroke="#f00" stroke-width="2.6" stroke-linecap="butt"/>
<circle cx="502.7" cy="320.5" r="14.05" fill="#fff"/><path d="M501.7 306.45 A14.05 14.05 0 0 1 501.7 334.55 Z" fill="#f00"/><circle cx="502.7" cy="320.5" r="14.05" fill="none" stroke="#f00" stroke-width="2.9"/>
<line x1="441" y1="387.4" x2="485" y2="387.4" stroke="#00f" stroke-width="2.6" stroke-linecap="butt"/>
<line x1="521" y1="387.4" x2="565" y2="387.4" stroke="#00f" stroke-width="2.6" stroke-linecap="butt"/>
<path d="M502.9 366.4 L521.7 398.4 L484.1 398.4 Z" fill="#00f"/><path d="M502.9 372.2 L510.9 386.2 L494.9 386.2 Z" fill="#fff"/>
<text font-family="'Liberation Sans', Arial, sans-serif" font-weight="bold" font-size="54.81" letter-spacing="-1.04" fill="#000" transform="translate(577.77 273.1) scale(1 1.0369)">ZS 25</text>
<text font-family="'Liberation Sans', Arial, sans-serif" font-weight="bold" font-size="55.09" letter-spacing="-1.04" fill="#000" transform="translate(577.76 339.3) scale(1 1.0317)">ZS 50</text>
<text font-family="'Liberation Sans', Arial, sans-serif" font-weight="bold" font-size="54.59" letter-spacing="-1.14" fill="#000" transform="translate(577.77 406.5) scale(1 1.0411)">ZS100</text>
<rect x="306" y="1526.5" width="1651" height="1207.5" fill="none" stroke="#000" stroke-width="5.8"/>
<line x1="291" y1="2671" x2="306" y2="2671" stroke="#000" stroke-width="5.6" stroke-linecap="butt"/>
<line x1="279" y1="2563" x2="306" y2="2563" stroke="#000" stroke-width="5.6" stroke-linecap="butt"/>
<line x1="291" y1="2455" x2="306" y2="2455" stroke="#000" stroke-width="5.6" stroke-linecap="butt"/>
<line x1="279" y1="2347" x2="306" y2="2347" stroke="#000" stroke-width="5.6" stroke-linecap="butt"/>
<line x1="291" y1="2239" x2="306" y2="2239" stroke="#000" stroke-width="5.6" stroke-linecap="butt"/>
<line x1="279" y1="2131" x2="306" y2="2131" stroke="#000" stroke-width="5.6" stroke-linecap="butt"/>
<line x1="291" y1="2023" x2="306" y2="2023" stroke="#000" stroke-width="5.6" stroke-linecap="butt"/>
<line x1="279" y1="1915" x2="306" y2="1915" stroke="#000" stroke-width="5.6" stroke-linecap="butt"/>
<line x1="291" y1="1807" x2="306" y2="1807" stroke="#000" stroke-width="5.6" stroke-linecap="butt"/>
<line x1="279" y1="1699" x2="306" y2="1699" stroke="#000" stroke-width="5.6" stroke-linecap="butt"/>
<line x1="291" y1="1591" x2="306" y2="1591" stroke="#000" stroke-width="5.6" stroke-linecap="butt"/>
<line x1="354" y1="2734" x2="354" y2="2760.5" stroke="#000" stroke-width="6" stroke-linecap="butt"/>
<line x1="548.25" y1="2734" x2="548.25" y2="2748" stroke="#000" stroke-width="6" stroke-linecap="butt"/>
<line x1="742.5" y1="2734" x2="742.5" y2="2760.5" stroke="#000" stroke-width="6" stroke-linecap="butt"/>
<line x1="936.75" y1="2734" x2="936.75" y2="2748" stroke="#000" stroke-width="6" stroke-linecap="butt"/>
<line x1="1131" y1="2734" x2="1131" y2="2760.5" stroke="#000" stroke-width="6" stroke-linecap="butt"/>
<line x1="1325.25" y1="2734" x2="1325.25" y2="2748" stroke="#000" stroke-width="6" stroke-linecap="butt"/>
<line x1="1519.5" y1="2734" x2="1519.5" y2="2760.5" stroke="#000" stroke-width="6" stroke-linecap="butt"/>
<line x1="1713.75" y1="2734" x2="1713.75" y2="2748" stroke="#000" stroke-width="6" stroke-linecap="butt"/>
<line x1="1908" y1="2734" x2="1908" y2="2760.5" stroke="#000" stroke-width="6" stroke-linecap="butt"/>
<text font-family="'Liberation Sans', Arial, sans-serif" font-weight="bold" font-size="57" letter-spacing="0" fill="#000" transform="translate(203.44 1713.6) scale(1 1.0707)">20</text>
<text font-family="'Liberation Sans', Arial, sans-serif" font-weight="bold" font-size="57" letter-spacing="0" fill="#000" transform="translate(203.44 1929.6) scale(1 1.0707)">10</text>
<text font-family="'Liberation Sans', Arial, sans-serif" font-weight="bold" font-size="57" letter-spacing="0" fill="#000" transform="translate(235.14 2145.6) scale(1 1.0707)">0</text>
<text font-family="'Liberation Sans', Arial, sans-serif" font-weight="bold" font-size="57" letter-spacing="0" fill="#000" transform="translate(184.46 2361.6) scale(1 1.0707)">-10</text>
<text font-family="'Liberation Sans', Arial, sans-serif" font-weight="bold" font-size="57" letter-spacing="0" fill="#000" transform="translate(184.46 2577.6) scale(1 1.0707)">-20</text>
<text font-family="'Liberation Sans', Arial, sans-serif" font-weight="bold" font-size="56.4" letter-spacing="0" fill="#000" transform="translate(219.21 2818) scale(1 1.0669)">-1,600,000</text>
<text font-family="'Liberation Sans', Arial, sans-serif" font-weight="bold" font-size="56.4" letter-spacing="0" fill="#000" transform="translate(631.23 2818) scale(1 1.0669)">-800,000</text>
<text font-family="'Liberation Sans', Arial, sans-serif" font-weight="bold" font-size="56.4" letter-spacing="0" fill="#000" transform="translate(1115.36 2818) scale(1 1.0669)">0</text>
<text font-family="'Liberation Sans', Arial, sans-serif" font-weight="bold" font-size="56.4" letter-spacing="0" fill="#000" transform="translate(1417.83 2818) scale(1 1.0669)">800,000</text>
<text font-family="'Liberation Sans', Arial, sans-serif" font-weight="bold" font-size="56.4" letter-spacing="0" fill="#000" transform="translate(1781.93 2818) scale(1 1.0669)">1,600,000</text>
<text font-family="'Liberation Sans', Arial, sans-serif" font-weight="bold" font-size="58.35" letter-spacing="-0.86" fill="#000" transform="translate(742.35 2921) scale(1 1.0511)">Applied Magnetic Field (A/m)</text>
<text font-family="'Liberation Sans', Arial, sans-serif" font-weight="bold" font-size="61.14" letter-spacing="-1.01" fill="#000" transform="translate(93 2452.9) rotate(-90) scale(1 0.9985)" x="-4.09" y="0">Magnetic Moment ( Am</text>
<text font-family="'Liberation Sans', Arial, sans-serif" font-weight="bold" font-size="35.31" letter-spacing="0" fill="#000" transform="translate(59.8 1805.8) rotate(-90) scale(1 0.9941)" x="-1.22" y="0">2</text>
<text font-family="'Liberation Sans', Arial, sans-serif" font-weight="bold" font-size="59.72" letter-spacing="0" fill="#000" transform="translate(93 1786.9) rotate(-90) scale(1 1.0223)" x="-0.58" y="0">/kg )</text>
<text font-family="'Liberation Sans', Arial, sans-serif" font-weight="bold" font-size="58.72" letter-spacing="-0.74" fill="#000" transform="translate(419.08 1616.6) scale(1 1.0006)">( b )</text>
<text font-family="'Liberation Sans', Arial, sans-serif" font-weight="bold" font-size="59.53" letter-spacing="-1.31" fill="#000" transform="translate(1535.54 1630.4) scale(1 1.0228)">2 K</text>
<text font-family="'Liberation Sans', Arial, sans-serif" font-weight="bold" font-size="58.8" letter-spacing="-1.18" fill="#000" transform="translate(1644.47 1848.2) scale(1 1.0333)">77 K</text>
<text font-family="'Liberation Sans', Arial, sans-serif" font-weight="bold" font-size="58.22" letter-spacing="-1.12" fill="#000" transform="translate(1713.36 2030.6) scale(1 1.0287)">300 K</text>
</svg>
</body></html>
